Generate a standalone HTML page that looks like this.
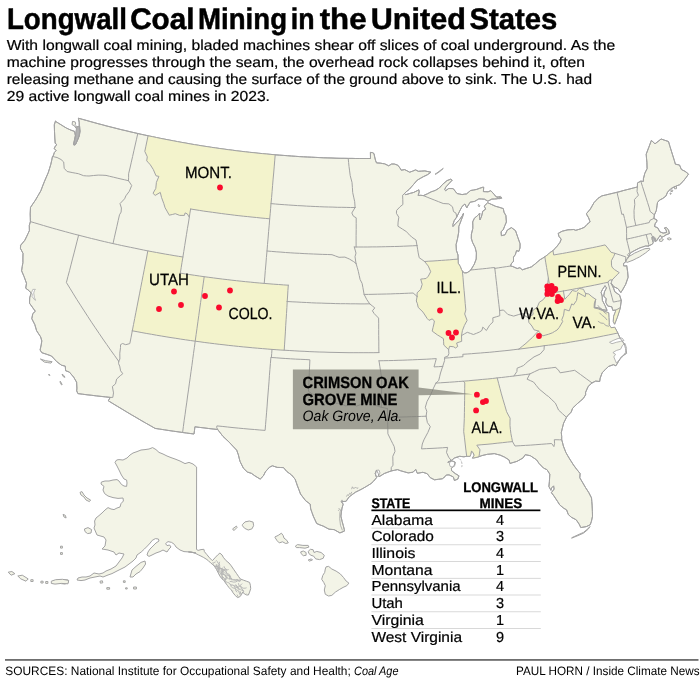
<!DOCTYPE html>
<html><head><meta charset="utf-8"><title>Longwall Coal Mining in the United States</title>
<style>html,body{margin:0;padding:0;background:#fff;overflow:hidden}svg{display:block;font-family:"Liberation Sans",sans-serif}text{text-rendering:geometricPrecision}svg{will-change:transform;opacity:.999}</style></head>
<body><svg width="700" height="681" viewBox="0 0 700 681">
<rect width="700" height="681" fill="#fff"/>
<g fill="#f3f4e7" stroke="#a3a3a3" stroke-width="1.0" stroke-linejoin="round">
<path d="M55.4,121.3 L58.3,123.1 L61.1,124.8 L63.8,126.5 L66.5,128.1 L68.8,129.2 L71.1,130.2 L74.6,131.4 L75.4,135.6 L74.4,140.3 L73.6,144.2 L74.4,145.3 L75.7,144.0 L77.0,141.1 L78.9,136.6 L79.6,131.8 L79.3,126.7 L79.2,122.2 L78.4,118.2 L82.3,119.3 L86.3,120.4 L90.2,121.5 L94.2,122.6 L98.1,123.7 L102.1,124.7 L106.0,125.8 L110.0,126.8 L114.0,127.8 L117.9,128.8 L121.9,129.8 L125.9,130.7 L129.9,131.7 L133.9,132.6 L137.8,133.5 L141.3,134.3 L144.7,135.0 L148.1,135.8 L152.3,136.6 L156.5,137.5 L160.7,138.4 L164.9,139.2 L169.1,140.0 L173.3,140.8 L177.5,141.6 L181.8,142.4 L186.0,143.1 L190.2,143.9 L194.4,144.6 L198.7,145.3 L202.9,146.0 L207.1,146.6 L211.4,147.3 L215.6,147.9 L219.8,148.5 L224.1,149.1 L228.3,149.7 L232.6,150.2 L236.8,150.8 L241.1,151.3 L245.4,151.8 L249.6,152.3 L253.9,152.7 L258.1,153.2 L262.4,153.6 L266.7,154.0 L270.9,154.4 L275.2,154.8 L279.3,155.1 L283.3,155.4 L287.4,155.7 L291.4,156.0 L295.5,156.3 L299.5,156.6 L303.6,156.8 L307.6,157.0 L311.7,157.2 L315.7,157.4 L319.8,157.6 L323.8,157.8 L327.9,157.9 L332.0,158.0 L336.0,158.2 L340.1,158.3 L344.1,158.3 L348.2,158.4 L351.9,158.4 L355.6,158.5 L359.4,158.5 L363.1,158.5 L366.8,158.5 L370.5,158.5 L370.4,152.4 L372.6,152.7 L374.0,153.6 L374.7,157.0 L375.5,160.3 L376.5,162.9 L380.2,163.1 L382.4,163.5 L384.6,163.8 L388.7,165.8 L391.6,164.0 L394.3,164.0 L397.8,165.2 L400.1,168.2 L401.2,170.2 L404.7,169.6 L407.2,170.9 L409.7,172.2 L412.7,171.1 L415.6,169.9 L418.4,171.3 L421.7,171.1 L424.9,170.9 L428.0,171.6 L431.0,172.2 L427.3,174.8 L423.3,176.7 L420.3,178.4 L417.2,180.2 L413.6,184.4 L411.4,186.9 L409.2,189.4 L405.9,192.0 L404.6,193.6 L405.6,194.7 L408.0,194.0 L410.7,193.2 L413.5,192.5 L417.2,190.7 L418.9,189.8 L419.2,192.2 L418.1,195.4 L420.8,195.3 L423.4,195.6 L427.4,193.8 L431.2,191.8 L433.4,191.1 L435.5,190.3 L439.3,188.0 L442.8,184.2 L447.0,180.6 L450.7,179.2 L452.2,180.2 L448.9,183.7 L445.8,187.1 L444.7,189.7 L445.6,190.7 L448.7,188.5 L453.2,188.6 L457.0,193.5 L459.5,194.0 L462.1,194.6 L464.3,194.2 L466.5,193.9 L470.6,190.5 L473.6,190.0 L476.7,189.4 L479.6,188.3 L482.6,187.3 L483.7,187.2 L483.4,191.6 L485.8,191.7 L488.1,191.8 L490.8,190.7 L494.1,194.3 L496.1,196.8 L498.7,197.3 L501.3,197.8 L499.1,198.3 L496.9,198.8 L494.4,199.0 L491.8,199.1 L487.9,201.2 L484.5,199.2 L481.7,199.0 L478.8,198.9 L476.7,200.2 L474.6,201.4 L470.1,202.2 L467.7,206.2 L466.8,207.9 L464.9,204.0 L462.1,206.4 L459.7,211.0 L456.8,216.9 L454.2,220.7 L452.9,224.6 L453.0,226.5 L455.6,223.5 L459.3,220.0 L462.4,215.6 L463.6,213.1 L462.7,216.4 L461.1,220.6 L458.8,226.5 L458.7,232.2 L457.5,238.8 L456.1,244.6 L456.4,250.3 L458.0,255.0 L458.1,259.1 L458.2,263.2 L460.2,266.3 L461.4,269.4 L462.4,271.3 L464.7,272.9 L467.1,272.7 L469.9,270.8 L470.8,270.0 L474.3,264.1 L476.2,259.0 L476.4,252.8 L475.2,247.7 L472.5,242.3 L471.3,238.3 L471.4,234.2 L472.8,228.4 L472.8,225.2 L472.7,221.9 L474.4,218.2 L477.5,215.7 L479.8,213.0 L479.5,217.1 L480.0,220.0 L481.6,216.1 L482.8,211.1 L485.7,209.1 L484.2,206.1 L487.7,202.7 L491.4,204.4 L495.6,206.3 L498.9,207.2 L503.3,208.6 L504.0,212.2 L505.9,215.6 L506.4,222.0 L504.9,225.5 L503.2,229.8 L501.1,231.7 L501.4,235.7 L505.0,234.8 L507.3,230.1 L511.4,227.6 L515.5,230.6 L516.7,234.1 L517.9,237.6 L520.1,243.8 L520.0,248.0 L518.8,251.4 L516.6,250.6 L515.3,254.7 L513.5,257.1 L513.5,261.2 L511.2,263.9 L510.6,266.0 L512.7,266.5 L517.2,268.5 L519.9,267.7 L522.3,269.8 L526.9,268.3 L529.2,267.6 L531.5,266.8 L535.3,263.8 L537.7,261.7 L540.1,259.7 L542.5,258.3 L544.8,256.8 L548.3,254.3 L549.5,252.9 L553.0,250.7 L555.0,248.4 L557.1,246.2 L560.0,242.3 L561.2,239.2 L558.9,236.3 L558.2,233.4 L562.2,231.2 L565.0,230.5 L567.9,229.8 L570.8,229.7 L573.7,229.5 L575.7,230.3 L578.2,229.6 L580.8,228.8 L584.6,227.2 L587.0,224.4 L590.1,221.9 L588.6,217.8 L586.8,214.8 L586.5,213.6 L590.3,209.1 L592.2,205.8 L594.1,202.5 L596.0,200.5 L597.9,198.4 L601.8,195.9 L605.6,195.0 L609.4,194.1 L613.2,193.2 L617.0,192.3 L620.1,191.5 L623.2,190.6 L626.3,189.8 L630.0,188.9 L633.7,187.9 L637.4,187.0 L637.5,182.9 L640.8,181.2 L643.5,181.3 L643.4,178.8 L644.8,173.3 L647.1,168.6 L646.9,162.2 L646.5,158.2 L646.2,154.2 L648.8,147.3 L651.4,140.4 L655.0,143.8 L658.1,141.4 L661.1,139.0 L664.8,140.3 L668.5,141.5 L669.9,146.3 L671.4,151.1 L672.9,155.9 L674.4,160.7 L675.4,164.2 L679.5,165.0 L681.4,169.5 L685.0,171.3 L687.8,173.4 L688.5,174.1 L686.1,177.5 L682.9,181.6 L679.7,184.7 L677.3,185.6 L674.0,187.1 L670.8,188.7 L667.6,192.1 L665.9,196.1 L662.7,198.5 L659.5,200.1 L657.5,202.5 L657.0,205.8 L656.3,210.6 L654.4,214.9 L653.9,218.4 L657.0,220.1 L656.7,221.5 L655.1,223.8 L654.5,226.5 L657.7,227.8 L659.9,231.8 L663.1,233.1 L666.6,232.5 L666.1,229.7 L664.2,228.2 L666.2,227.5 L668.5,229.8 L669.4,233.5 L666.1,234.8 L663.5,236.5 L661.5,237.4 L660.4,235.2 L658.6,237.7 L656.7,240.7 L655.4,241.6 L654.5,238.8 L652.0,236.9 L652.2,239.4 L653.2,242.5 L652.4,244.1 L648.4,246.1 L645.6,246.0 L642.6,247.0 L639.6,248.0 L637.0,249.3 L634.3,250.7 L630.4,252.9 L628.7,256.4 L627.7,258.5 L626.3,260.1 L625.5,262.0 L623.6,263.4 L623.5,265.8 L626.1,266.0 L626.7,265.5 L627.6,271.5 L628.1,277.3 L625.7,284.3 L622.4,290.2 L620.8,292.6 L618.0,288.7 L613.8,286.7 L611.1,283.2 L613.5,288.1 L614.9,291.9 L619.6,295.1 L621.3,300.5 L620.8,304.1 L620.3,307.7 L619.4,311.0 L617.3,317.3 L614.6,324.2 L613.3,321.4 L613.6,316.4 L615.4,311.8 L615.7,310.1 L612.8,310.4 L611.8,306.8 L607.7,306.0 L605.7,302.2 L606.2,298.8 L603.7,296.0 L604.5,291.7 L606.5,287.9 L605.0,285.7 L602.4,289.6 L601.1,292.4 L602.2,296.0 L602.4,300.4 L605.1,305.7 L607.1,310.4 L602.1,309.6 L598.5,307.9 L594.6,307.3 L595.0,302.8 L595.7,299.3 L594.3,303.7 L594.1,307.9 L598.1,308.8 L600.9,309.9 L603.7,311.0 L608.7,312.8 L608.9,317.4 L609.2,322.3 L609.1,324.8 L610.5,326.7 L611.0,327.7 L614.8,327.3 L617.8,333.0 L620.2,338.3 L622.3,341.2 L624.4,344.0 L625.5,348.6 L626.6,353.2 L623.9,355.1 L621.2,356.9 L618.5,361.4 L615.9,365.8 L613.4,364.7 L608.4,366.5 L605.3,369.6 L602.2,372.7 L600.2,378.1 L599.7,381.5 L595.7,381.1 L592.0,382.9 L588.2,386.4 L585.6,392.3 L585.6,394.8 L583.3,398.5 L580.3,401.1 L577.3,403.7 L572.6,408.2 L571.2,412.1 L568.0,415.4 L566.5,417.3 L563.6,423.2 L562.3,428.3 L561.3,432.5 L561.7,436.6 L561.7,439.7 L562.6,442.9 L563.4,446.1 L564.6,449.2 L565.8,452.3 L567.7,455.7 L569.7,459.0 L573.5,465.0 L576.7,469.3 L580.1,473.5 L579.8,477.8 L582.9,483.0 L585.5,487.5 L588.8,492.6 L591.5,497.9 L591.8,501.5 L592.1,505.1 L592.4,511.5 L592.5,516.3 L591.4,521.4 L590.2,524.8 L586.3,526.6 L580.8,527.6 L579.2,524.2 L576.2,519.8 L571.4,517.3 L568.3,514.5 L566.6,509.9 L563.7,508.2 L559.7,504.9 L557.6,501.5 L553.9,495.9 L551.4,492.7 L554.1,489.1 L553.6,485.9 L551.7,487.8 L550.9,490.3 L548.9,486.5 L549.4,481.6 L549.6,477.9 L549.8,474.2 L547.0,469.7 L543.5,468.1 L539.1,463.5 L536.5,459.8 L530.3,455.7 L525.2,454.7 L523.1,457.9 L520.0,459.7 L516.9,461.4 L512.1,462.8 L510.0,463.5 L509.0,459.9 L504.5,457.1 L500.1,455.1 L497.2,454.4 L494.3,453.6 L490.9,454.0 L487.4,454.3 L481.9,455.6 L479.0,456.7 L475.1,457.7 L472.4,458.1 L474.2,455.2 L473.1,452.8 L471.5,450.9 L470.7,454.6 L470.1,456.3 L466.7,456.3 L463.9,456.8 L459.7,456.3 L454.5,458.0 L451.2,460.5 L447.8,462.3 L451.7,460.9 L455.2,462.3 L454.1,465.6 L451.4,468.2 L451.6,470.7 L455.3,473.6 L459.0,475.8 L457.8,479.1 L454.4,480.5 L453.4,477.0 L449.1,474.9 L446.3,475.0 L445.0,476.7 L442.3,478.8 L438.4,479.3 L434.5,479.8 L430.2,477.6 L427.2,473.7 L422.9,472.3 L420.1,472.8 L417.3,473.3 L415.7,469.4 L413.1,472.2 L408.2,472.9 L404.3,471.8 L400.4,470.7 L397.5,469.6 L394.4,470.3 L391.3,470.9 L387.8,472.2 L384.3,473.5 L379.0,476.8 L378.3,473.6 L376.6,470.4 L375.2,473.6 L376.6,477.6 L373.6,481.2 L371.0,483.6 L366.1,486.6 L361.9,489.0 L358.7,490.6 L355.5,492.2 L352.2,494.6 L349.0,497.0 L346.1,501.3 L341.4,501.7 L343.2,504.1 L342.0,508.1 L341.4,512.1 L340.9,516.1 L342.2,521.7 L343.3,525.6 L344.3,529.5 L344.3,531.2 L339.9,532.9 L334.1,529.6 L329.0,529.2 L323.2,526.1 L319.9,524.9 L316.7,523.5 L315.0,519.9 L313.3,516.2 L312.0,512.6 L310.7,508.9 L310.2,504.1 L305.6,500.7 L300.5,494.0 L299.0,489.9 L297.4,485.8 L296.3,482.5 L295.1,479.2 L291.6,475.0 L286.8,471.5 L283.5,467.6 L280.4,467.5 L277.2,467.4 L272.4,465.8 L269.5,467.2 L265.4,471.8 L263.3,476.0 L260.2,479.1 L254.8,475.8 L251.5,473.4 L247.3,472.0 L243.4,468.2 L240.1,461.6 L239.2,458.3 L238.4,454.9 L236.7,450.2 L232.9,446.2 L229.2,442.2 L226.0,439.2 L222.9,436.3 L220.5,433.2 L218.1,430.1 L217.7,429.5 L213.1,429.0 L208.6,428.5 L204.0,427.9 L199.5,427.4 L194.9,426.8 L194.5,430.4 L194.0,434.0 L190.2,433.5 L186.4,433.0 L182.6,432.5 L178.0,431.8 L173.4,431.2 L168.8,430.5 L164.3,429.8 L159.7,429.1 L155.1,428.4 L150.4,425.7 L145.6,423.0 L140.9,420.3 L136.2,417.5 L131.5,414.8 L126.8,412.0 L122.2,409.2 L117.5,406.4 L112.9,403.6 L108.3,400.8 L110.2,397.4 L105.6,396.9 L101.0,396.4 L96.4,395.9 L91.8,395.3 L87.1,394.8 L82.5,394.2 L77.9,393.6 L76.7,390.9 L76.9,388.1 L76.6,382.2 L73.7,377.2 L69.4,372.1 L65.6,370.7 L65.3,366.2 L61.5,365.2 L59.0,363.4 L56.6,361.5 L54.1,358.8 L51.5,356.0 L46.7,354.3 L41.8,352.7 L40.1,350.0 L41.2,344.9 L41.8,340.9 L40.6,336.8 L38.6,333.8 L36.6,330.7 L34.8,324.6 L31.8,318.7 L32.8,313.6 L35.3,311.3 L33.0,308.1 L29.5,303.2 L29.7,297.8 L31.1,293.1 L29.3,290.9 L25.7,288.2 L26.5,283.3 L24.1,276.7 L21.6,270.8 L22.2,266.7 L22.9,262.7 L22.9,258.0 L23.0,253.4 L20.4,248.3 L20.7,245.2 L24.8,240.3 L26.6,236.6 L28.0,233.6 L29.4,230.6 L29.3,225.5 L30.4,221.6 L30.3,217.8 L30.2,213.9 L30.5,207.4 L32.9,203.8 L35.4,200.2 L38.1,195.5 L40.8,190.9 L42.6,186.1 L44.5,181.3 L46.3,177.1 L48.2,172.8 L49.5,168.6 L50.8,164.3 L51.7,160.4 L52.5,156.4 L53.3,155.8 L54.3,152.6 L56.1,150.6 L54.3,148.6 L55.2,146.2 L56.9,144.7 L55.2,143.3 L54.8,138.0 L54.5,131.4 L54.3,124.8 L55.4,121.3Z"/>
<path d="M625.7,261.4 L626.8,258.7 L629.2,256.4 L631.9,254.8 L634.6,253.1 L637.2,252.0 L639.8,250.8 L642.4,249.7 L645.0,248.7 L649.5,248.3 L649.9,249.4 L647.8,251.1 L645.6,252.9 L642.6,254.9 L639.6,256.9 L636.3,258.5 L633.0,260.2 L630.1,261.3 L627.1,262.4Z"/>
<path d="M659.2,239.7 L661.5,238.6 L663.4,239.4 L662.1,241.3 L659.7,241.3Z"/>
<path d="M667.4,238.3 L669.7,237.8 L671.4,239.0 L669.4,239.9 L667.7,239.4Z"/>
<path d="M435.0,174.3 L438.1,172.1 L441.2,169.8 L443.3,168.4 L440.2,171.2 L436.6,173.7Z"/>
<path d="M40.4,359.0 L43.0,359.9 L45.5,360.7 L48.8,361.2 L52.1,361.7 L51.0,363.1 L47.7,362.6 L44.4,362.1Z"/>
<path d="M62.0,374.1 L64.3,375.9 L64.9,377.4 L63.1,376.5Z"/>
<path d="M60.3,381.2 L62.2,384.6 L61.5,384.9 L59.9,381.9Z"/>
<path d="M48.9,374.1 L50.0,375.4 L48.7,375.1Z"/>
<path d="M497.3,197.2 L500.5,196.3 L501.9,198.2 L498.6,198.9Z"/>
<path d="M478.5,204.3 L479.8,205.7 L479.1,206.9 L478.2,205.4Z"/>
<path d="M72.5,121.4 L75.2,121.9 L75.7,124.0 L74.1,125.6 L72.1,124.7Z"/>
<path d="M74.5,126.2 L76.3,125.9 L76.1,128.3Z"/>
<path d="M674.1,186.6 L676.5,186.5 L676.5,188.7 L674.5,188.8Z"/>
<path d="M671.2,189.8 L672.8,190.3 L672.3,191.7 L670.7,191.3Z"/>
<path d="M670.0,192.9 L671.4,193.6 L670.4,194.4Z"/>
<path d="M590.0,526.5 L588.2,529.2 L583.6,533.1 L578.0,535.6 L574.8,536.9 L571.6,538.2 L571.8,537.7 L574.8,536.3 L577.8,534.9 L583.5,532.4 L588.4,528.3Z"/>
<path d="M77.0,126.7 L79.7,126.2 L80.3,131.5 L79.0,136.8 L77.0,141.4 L75.4,144.6 L73.7,144.6 L74.6,140.7 L75.7,136.0 L75.9,131.4Z" fill="#b3b3b3"/>
<path d="M652.1,236.9 L653.8,236.4 L655.6,238.3 L655.3,241.1 L653.4,241.3 L652.5,238.8Z" fill="#bdbdbd" stroke-width="0.6"/>
<path d="M31.4,292.9 L32.8,289.4 L35.4,289.3 L34.4,290.7 L33.7,293.0 L34.4,297.5 L35.6,300.3 L34.5,299.7 L32.1,296.5 L32.3,294.3Z" fill="#fff" stroke-width="0.7"/>
<path d="M609.5,342.3 L613.8,340.2 L618.0,338.5 L622.0,338.0 L624.0,340.6 L620.6,341.4 L616.3,342.3 L612.0,343.7Z" fill="#fff" stroke-width="0.8"/>
<path d="M624.9,343.2 L626.6,348.3 L625.4,352.6 L622.3,356.9 L618.0,361.2 L616.3,362.9 L613.8,356.9 L615.5,354.3 L612.9,352.6 L616.3,350.5 L620.6,349.2 L622.3,345.7Z" fill="#fff" stroke-width="0.8"/>
<path d="M376.0,470.4 L379.0,470.0 L380.0,473.0 L378.0,476.6 L375.6,475.6Z" fill="#fff" stroke-width="0.8"/>
<ellipse cx="452.3" cy="464" rx="2.9" ry="3.1" fill="#fff" stroke-width="0.8"/>
<path d="M456.4,457.2 Q461,458.5 461.8,463 T460.6,467.5" fill="none" stroke-width="0.8" stroke-dasharray="2.2 1.2"/>
<path d="M340.6,509.5 L339.9,513 L339.7,518.8 L340.5,525.4 L342.4,530.3 M341,501.5 q0.3,-1.8 1.6,-1.2 q0.9,1.2 -0.6,2 M346.4,496.6 l1.2,-1.9 l0.8,0.8 l1.3,-2.2 l0.9,0.9 l1.2,-2.3 M351.6,489.2 l0.8,-2.4 l1.5,1.9 l1.6,-1.7 l1.3,1.3 l1.5,-0.4 M338.2,510.8 l1.4,-1.6 l-0.9,-1.1" fill="none" stroke-width="0.8"/>
<path d="M196.6,467.0 L193.0,464.0 L189.0,462.4 L185.0,463.6 L180.0,461.0 L175.0,459.0 L171.0,457.6 L167.0,456.0 L163.0,454.0 L159.0,452.4 L156.0,449.6 L152.6,447.6 L149.0,449.0 L145.0,449.6 L141.0,450.0 L137.0,451.6 L133.0,453.0 L130.0,455.0 L127.0,458.0 L123.0,460.0 L119.0,459.6 L116.6,460.0 L115.0,462.4 L117.0,466.0 L119.0,470.0 L121.4,475.0 L124.0,479.0 L126.6,480.0 L127.0,483.0 L126.6,486.4 L124.0,486.0 L121.4,484.4 L119.0,481.0 L117.0,479.6 L113.0,480.0 L109.0,481.0 L105.0,481.0 L101.4,482.0 L101.0,484.0 L104.0,486.4 L103.0,490.0 L104.6,493.6 L108.0,496.0 L113.0,497.6 L118.0,498.4 L123.0,498.0 L123.4,501.0 L121.0,503.6 L120.0,507.0 L117.0,508.0 L114.0,509.6 L111.0,509.0 L108.0,507.6 L105.0,510.0 L102.0,513.0 L99.0,515.6 L96.0,518.0 L94.6,521.0 L95.0,525.0 L94.0,528.0 L97.0,535.0 L104.0,537.0 L106.0,540.0 L105.0,546.0 L102.0,549.0 L108.0,550.0 L114.0,552.0 L116.0,555.0 L119.0,553.0 L124.0,554.0 L122.0,558.0 L119.0,562.0 L116.0,566.0 L111.0,569.0 L106.0,571.0 L103.0,573.0 L99.0,574.0 L94.0,573.0 L90.0,576.0 L86.0,577.0 L82.0,577.0 L78.0,578.0 L77.0,580.0 L81.0,580.6 L85.0,580.0 L90.0,578.0 L95.0,577.0 L100.0,576.0 L103.0,577.0 L108.0,575.0 L112.0,573.6 L117.0,571.0 L121.0,569.0 L125.0,567.0 L129.0,564.0 L133.0,561.0 L136.0,558.0 L137.0,555.0 L141.2,552.0 L144.4,549.0 L147.4,546.0 L150.2,543.0 L152.2,540.4 L155.4,538.6 L158.4,539.0 L159.0,541.0 L156.0,543.0 L153.0,546.0 L150.0,549.0 L148.0,552.0 L147.0,555.0 L149.0,556.4 L152.0,555.0 L156.0,553.0 L160.0,551.6 L163.0,550.0 L165.0,551.0 L167.0,552.0 L169.0,549.0 L171.0,547.0 L169.6,545.0 L167.0,545.6 L165.6,543.6 L168.0,541.6 L171.6,542.4 L174.4,544.4 L176.0,547.0 L180.0,550.0 L184.0,551.6 L190.0,552.0 L196.0,553.0 L188.4,551.9 L191.9,552.1 L195.3,553.3 L198.7,555.0 L201.0,556.1 L203.3,557.3 L206.1,559.0 L208.4,560.7 L210.7,563.0 L213.0,564.7 L214.9,567.0 L216.4,569.3 L218.1,572.7 L219.9,576.1 L221.6,578.4 L223.9,580.7 L225.6,583.0 L227.3,585.3 L229.0,587.6 L231.3,589.9 L233.0,592.7 L235.3,595.6 L237.6,597.6 L239.9,596.7 L241.6,594.4 L242.7,592.1 L244.4,593.9 L246.7,595.0 L248.4,595.0 L249.6,592.1 L250.7,588.7 L250.4,585.3 L249.6,582.4 L246.7,581.3 L243.3,580.1 L240.4,579.0 L238.7,576.7 L236.4,573.3 L233.6,569.3 L231.3,565.9 L229.0,563.0 L226.1,560.7 L223.3,557.3 L222.1,555.0 L219.9,553.1 L217.6,555.0 L214.9,557.9 L212.4,560.7 L209.6,557.9 L206.7,554.4 L204.4,551.6 L203.9,549.3 L201.0,549.6 L198.1,550.4 L196.4,549.3 L196.5,549.3Z"/>
<path d="M80.0,492.4 L82.0,491.6 L84.0,495.0 L87.0,498.0 L90.6,500.0 L89.4,501.6 L86.0,500.0 L84.0,497.0 L81.0,495.0Z"/>
<path d="M84.4,529.0 L88.0,527.6 L91.6,529.6 L91.0,533.0 L87.6,533.6 L85.0,531.6Z"/>
<path d="M130.0,577.0 L132.0,570.0 L136.0,566.4 L141.0,562.4 L145.0,561.0 L145.6,564.0 L143.0,568.0 L140.0,571.6 L136.0,574.0 L133.0,577.0Z"/>
<path d="M100.0,581.2 L102.4,580.8 L102.8,582.8 L100.4,583.2Z"/>
<path d="M106.8,587.6 L109.6,587.6 L109.6,589.2 L106.8,589.2Z"/>
<path d="M123.4,580.8 L125.2,580.8 L125.2,582.4 L123.4,582.4Z"/>
<path d="M125.6,587.8 L127.2,587.8 L127.2,589.0 L125.6,589.0Z"/>
<path d="M133.6,587.0 L136.4,587.0 L136.4,589.0 L133.6,589.0Z"/>
<path d="M61.0,581.0 L64.0,579.6 L68.0,580.0 L68.4,582.4 L65.0,584.0 L61.0,583.6Z"/>
<path d="M8.2,572.2 L11.9,571.5 L14.9,573.7 L11.1,575.2Z"/>
<path d="M17.8,576.0 L22.3,575.2 L28.2,578.9 L26.0,581.2 L20.8,578.9Z"/>
<path d="M30.8,579.7 L33.1,579.7 L33.1,581.5 L30.8,581.5Z"/>
<path d="M40.9,581.2 L43.1,581.2 L43.1,583.0 L40.9,583.0Z"/>
<path d="M45.7,581.5 L47.9,581.5 L47.9,583.4 L45.7,583.4Z"/>
<path d="M51.3,581.2 L55.7,579.7 L62.4,579.3 L68.7,580.4 L68.0,583.8 L61.3,583.4 L55.0,584.1 L51.3,583.4Z"/>
<path d="M60.5,546.2 L62.4,546.2 L62.4,548.1 L60.5,548.1Z"/>
<path d="M60.5,552.6 L62.4,552.6 L62.4,554.4 L60.5,554.4Z"/>
<path d="M63.1,514.3 L65.4,515.4 L66.1,518.0 L63.9,516.9Z"/>
<clipPath id="pan"><path d="M212.4,560.7 L214.9,557.9 L217.6,555.0 L219.9,553.1 L222.1,555.0 L223.3,557.3 L226.1,560.7 L229.0,563.0 L231.3,565.9 L233.6,569.3 L236.4,573.3 L238.7,576.7 L240.4,579.0 L243.3,580.1 L246.7,581.3 L249.6,582.4 L250.4,585.3 L250.7,588.7 L249.6,592.1 L248.4,595.0 L246.7,595.0 L244.4,593.9 L242.7,592.1 L241.6,594.4 L239.9,596.7 L237.6,597.6 L235.3,595.6 L233.0,592.7 L231.3,589.9 L229.0,587.6 L227.3,585.3 L225.6,583.0 L223.9,580.7 L221.6,578.4 L219.9,576.1 L218.1,572.7 L216.4,569.3 L214.9,567.0 L213.0,564.7Z"/></clipPath>
<path d="M218.5,574.1 L219.8,574.4 L221.2,573.6 L221.5,571.3 M212.4,566.2 L213.8,567.1 L215.5,566.8 L217.5,566.7 L219.0,565.6 L219.1,563.6 L219.7,561.8 M237.1,594.6 L237.8,596.1 L238.2,598.4 L237.9,601.0 L238.7,603.0 M216.1,560.2 L217.3,561.5 L217.7,562.8 L219.2,563.7 L219.7,565.6 L219.7,567.8 M239.6,599.0 L240.8,600.0 L241.6,602.2 L242.2,603.8 M216.8,569.7 L216.4,571.4 L216.8,572.8 L216.8,575.1 L217.7,576.3 L218.7,577.7 L220.9,578.7 M235.7,584.4 L236.6,586.0 L237.5,587.9 L238.5,589.3 L240.5,589.3 L241.9,590.3 L243.6,590.9 M244.5,596.0 L244.9,597.8 L246.0,598.8 L248.4,599.0 L250.3,597.8 L250.8,596.6 L251.6,594.3 M232.3,584.9 L234.2,585.7 L236.5,585.9 L238.3,587.4 L239.0,589.2 M218.4,567.8 L220.4,568.0 L222.2,568.9 L222.3,570.3 L222.6,572.1 L221.2,573.0 M240.4,596.3 L239.6,598.4 L239.2,600.6 L239.2,603.2 M223.5,580.4 L223.0,582.3 L222.4,584.2 L221.5,586.5 L221.7,587.7 M240.4,585.6 L241.8,587.6 L243.2,588.2 L245.2,588.2 L246.6,587.8 M222.6,574.4 L222.0,575.8 L222.7,578.0 L222.4,580.3 L223.1,582.1 L224.3,582.9 L226.0,583.9 M236.6,589.9 L238.4,590.7 L239.2,592.6 L240.0,594.6 M226.7,576.9 L225.6,578.2 L225.0,579.9 L224.9,581.7 L225.6,582.9 L225.5,585.0 M221.0,569.6 L222.5,571.1 L223.0,572.8 L223.5,574.2 M224.1,566.3 L224.6,568.2 L226.2,569.2 L226.1,571.6 L227.1,573.6 L229.2,574.3 L230.5,576.4 M225.2,575.6 L226.4,575.8 L227.7,575.7 L230.0,576.0 L230.9,577.8 L232.1,579.1 M240.2,590.8 L240.0,592.3 L241.2,594.2 L241.8,595.8 L242.0,598.1 M240.2,592.0 L241.2,593.4 L242.0,595.3 L242.8,597.8 L243.8,598.9 M221.6,570.3 L222.1,571.5 L222.1,573.3 L223.6,574.5 L225.5,575.9 L226.0,577.2 M215.2,568.6 L217.7,568.9 L218.9,568.8 L220.8,568.7 L222.0,568.6 L223.2,567.6 M209.8,557.6 L210.6,559.9 L211.5,562.1 L213.5,562.9 L215.7,561.8 M234.7,587.6 L235.6,589.7 L236.0,591.2 L237.2,592.1 M217.9,564.7 L218.6,566.6 L219.0,568.5 L218.8,570.7 L219.3,572.2 M232.8,590.6 L232.4,592.9 L232.4,595.0 L233.5,596.4 L234.1,598.4 L235.6,599.5 L235.8,601.0 M229.7,576.0 L229.5,577.7 L230.6,579.0 L232.5,579.4 M243.7,602.8 L243.9,604.7 L243.0,606.5 L241.5,608.2 M222.8,568.6 L223.7,570.3 L223.7,572.0 L224.7,573.3 M221.5,578.1 L222.0,579.8 L223.2,581.5 L224.5,582.7 M208.7,565.9 L210.2,566.2 L211.8,565.2 L214.0,565.8 L215.3,567.6 M231.0,590.1 L231.8,591.2 L231.4,593.0 L231.5,595.3 L230.3,596.7 M221.8,570.2 L223.6,569.6 L225.4,569.3 L227.2,569.9 L228.6,569.5 M220.5,575.8 L221.5,577.3 L222.4,578.8 L223.9,579.4 M215.3,566.3 L217.5,567.1 L218.9,568.2 L219.5,569.5 L220.4,571.7 M243.8,591.7 L243.0,592.8 L243.2,595.0 L241.7,596.6 L240.0,597.3 L239.2,598.7 L237.3,599.4 M212.9,566.5 L214.4,567.3 L215.9,566.7 L216.7,564.4 M218.6,574.7 L219.6,575.8 L220.4,576.9 L220.3,578.3 L221.0,579.8 M229.7,581.4 L232.0,581.7 L233.5,582.1 L235.8,581.9 L237.6,580.9 L239.4,581.1 L241.1,580.3 M239.7,594.8 L241.7,595.3 L243.8,595.8 L245.1,595.3 L246.3,593.7 M225.0,580.5 L225.7,581.6 L227.4,582.4 L229.4,583.1 L230.4,584.9 L232.6,585.2 M228.9,578.5 L230.6,579.0 L231.6,579.8 L234.0,579.7 L236.3,580.3 L238.9,580.2 L240.8,579.5 M215.4,573.5 L216.8,574.3 L217.7,575.9 L219.0,577.2 M239.4,598.9 L239.9,600.5 L241.1,601.6 L243.1,602.3 L244.3,601.7 M226.9,577.0 L226.9,578.8 L225.0,579.7 L224.6,582.1 L225.1,584.3 L224.7,585.9 M218.2,567.7 L219.7,567.9 L221.1,569.1 L223.1,570.2 L225.4,570.6 L226.1,572.2 L226.0,574.7 M210.3,557.0 L210.8,559.3 L211.3,561.4 L210.7,563.3 L209.8,564.6 M212.8,562.4 L213.0,564.2 L213.6,565.5 L215.3,566.2 L217.6,566.8 M216.6,567.7 L217.9,568.6 L218.2,570.6 L219.0,572.7 L218.2,574.1 L217.1,574.8 M240.9,598.1 L242.0,598.9 L243.5,600.6 L245.6,600.6 L247.0,600.7 L249.5,600.8 M230.7,584.2 L231.2,586.5 L232.7,588.0 L234.9,588.1 L236.4,589.8 M233.3,580.0 L235.8,579.9 L237.1,579.3 L238.5,580.0 L239.8,581.7 M220.9,571.8 L221.1,573.3 L221.6,575.1 L222.6,576.8 L224.1,577.9 L225.0,580.1 M220.3,573.5 L221.9,574.3 L224.4,574.4 L225.6,575.4 L226.4,577.5 L227.7,578.1 L228.7,578.9 M239.0,597.4 L240.6,598.2 L243.0,597.8 L244.3,598.3 L245.0,599.7 M226.4,573.7 L227.5,574.8 L229.5,575.6 L230.2,577.7 L229.6,579.5 M238.4,583.2 L238.8,584.9 L239.5,586.3 L241.0,586.9 L241.6,588.7 L243.4,590.4 L243.4,592.6 M233.6,585.9 L235.0,587.0 L236.8,587.6 L238.4,587.1 L239.6,585.9 L240.9,584.9 L242.1,583.6 M215.8,564.4 L216.9,565.3 L217.8,566.8 L218.3,569.2 L218.0,571.6 L219.2,573.0" fill="none" stroke="#b4b4b4" stroke-width="0.9" clip-path="url(#pan)"/>
<path d="M232.6,528.9 L236.4,526.1 L237.1,527.4 L233.9,530.6Z"/>
<path d="M242.4,524.6 L245.0,521.9 L249.3,521.0 L253.1,522.1 L253.6,525.7 L251.9,528.9 L248.2,530.0 L244.6,528.3 L242.4,525.7Z"/>
<path d="M275.0,536.9 L278.2,535.4 L281.4,533.2 L283.1,535.4 L284.0,538.1 L286.8,540.3 L288.3,542.9 L285.7,543.5 L282.5,541.8 L279.3,542.9 L277.1,540.7 L275.0,537.5Z"/>
<path d="M295.4,546.1 L297.5,544.6 L302.9,545.4 L308.2,545.4 L308.9,547.1 L305.0,548.2 L299.6,547.6 L296.4,547.6Z"/>
<path d="M300.7,551.9 L303.3,551.0 L306.1,552.5 L306.1,555.3 L303.3,555.7 L301.1,553.6Z"/>
<path d="M308.2,551.4 L310.4,549.3 L313.1,549.7 L314.0,552.5 L316.8,551.4 L321.1,552.5 L324.3,555.3 L323.2,558.3 L319.6,559.6 L315.7,558.9 L313.6,556.1 L311.0,555.3 L308.9,553.6Z"/>
<path d="M308.2,560.0 L311.4,558.9 L312.5,560.0 L309.3,561.1Z"/>
<path d="M326.0,566.9 L328.6,566.4 L331.8,569.0 L336.1,571.1 L340.3,573.9 L343.6,577.6 L346.1,581.0 L348.9,583.1 L346.8,585.7 L343.1,587.4 L339.3,589.6 L335.4,592.1 L331.8,595.4 L328.6,596.0 L325.3,594.3 L324.3,590.0 L325.3,585.7 L323.8,582.5 L321.7,579.3 L322.8,575.4 L324.7,572.4 L325.3,569.0Z"/>
</g>
<g fill="#f3f3cc" stroke="none">
<path d="M148.1,135.8 L152.3,136.6 L156.5,137.5 L160.7,138.4 L164.9,139.2 L169.1,140.0 L173.3,140.8 L177.5,141.6 L181.8,142.4 L186.0,143.1 L190.2,143.9 L194.4,144.6 L198.7,145.3 L202.9,146.0 L207.1,146.6 L211.4,147.3 L215.6,147.9 L219.8,148.5 L224.1,149.1 L228.3,149.7 L232.6,150.2 L236.8,150.8 L241.1,151.3 L245.4,151.8 L249.6,152.3 L253.9,152.7 L258.1,153.2 L262.4,153.6 L266.7,154.0 L270.9,154.4 L275.2,154.8 L274.7,160.9 L274.2,166.9 L273.7,173.0 L273.1,179.1 L272.6,185.3 L272.1,191.4 L271.6,197.5 L271.0,203.6 L270.6,208.7 L270.2,213.7 L269.7,218.8 L265.3,218.4 L260.9,218.0 L256.5,217.5 L252.1,217.1 L247.7,216.6 L243.3,216.2 L238.9,215.7 L234.5,215.2 L230.1,214.6 L225.7,214.1 L221.3,213.5 L216.9,212.9 L212.5,212.3 L208.1,211.7 L203.7,211.1 L199.4,210.4 L195.0,209.7 L190.6,209.0 L189.9,213.2 L189.3,217.3 L187.3,213.9 L185.1,212.9 L184.4,215.4 L182.0,215.4 L179.7,215.4 L175.3,213.7 L172.3,214.5 L169.2,215.2 L168.8,214.3 L167.0,211.1 L165.1,207.8 L163.8,203.6 L161.5,197.4 L160.3,192.4 L155.2,195.4 L153.0,193.3 L155.8,188.4 L156.4,182.4 L158.9,176.4 L156.0,175.8 L153.3,169.5 L150.3,164.8 L148.5,162.8 L146.7,160.8 L147.3,156.8 L144.8,151.4 L145.9,146.2 L147.0,140.9 L148.1,135.8Z"/>
<path d="M147.8,250.9 L152.2,251.7 L156.6,252.5 L161.0,253.3 L165.3,254.1 L169.7,254.8 L174.1,255.6 L178.5,256.3 L182.9,257.0 L182.0,262.4 L181.2,267.7 L180.3,273.1 L185.1,273.9 L189.9,274.6 L194.6,275.3 L199.4,276.0 L204.2,276.7 L203.3,283.1 L202.4,289.6 L201.5,296.0 L200.6,302.5 L199.7,308.9 L198.8,315.4 L197.9,321.8 L197.0,328.3 L196.1,334.7 L195.2,341.2 L190.4,340.5 L185.5,339.8 L180.7,339.1 L175.8,338.3 L171.0,337.6 L166.1,336.8 L161.3,336.0 L156.4,335.2 L151.6,334.3 L146.8,333.5 L141.9,332.6 L137.1,331.7 L132.3,330.8Z"/>
<path d="M204.2,276.7 L208.9,277.3 L213.5,277.9 L218.2,278.5 L222.8,279.1 L227.5,279.7 L232.2,280.2 L236.8,280.7 L241.5,281.2 L246.2,281.7 L250.8,282.2 L255.5,282.6 L260.2,283.1 L264.9,283.5 L269.6,283.8 L274.2,284.2 L278.9,284.6 L283.6,284.9 L288.3,285.2 L287.9,290.6 L287.6,296.0 L287.2,301.5 L286.9,307.5 L286.5,313.6 L286.1,319.7 L285.7,325.8 L285.4,331.9 L285.0,338.0 L284.6,344.1 L284.2,350.2 L279.3,349.9 L274.3,349.5 L269.3,349.2 L264.4,348.8 L259.4,348.4 L254.5,347.9 L249.5,347.5 L244.6,347.0 L239.6,346.5 L234.7,346.0 L229.8,345.5 L224.8,344.9 L219.9,344.4 L215.0,343.8 L210.0,343.2 L205.1,342.5 L200.2,341.9 L195.2,341.2Z"/>
<path d="M424.6,261.5 L428.8,261.2 L433.0,261.0 L437.2,260.7 L441.4,260.4 L445.6,260.1 L449.7,259.8 L453.9,259.4 L458.1,259.1 L458.2,263.2 L460.2,266.3 L461.4,269.4 L462.4,271.3 L463.0,277.7 L463.5,284.1 L464.1,290.6 L464.7,297.0 L465.2,303.4 L465.8,309.9 L464.7,314.0 L467.1,320.4 L464.4,325.5 L462.4,330.6 L461.5,335.6 L461.7,341.3 L459.2,342.1 L456.6,343.0 L457.7,346.5 L455.5,348.0 L453.7,346.8 L449.6,346.3 L448.6,349.6 L443.8,345.1 L443.6,341.8 L443.4,338.6 L440.4,336.7 L437.4,334.9 L432.2,331.1 L433.0,327.6 L433.9,324.0 L434.4,320.9 L432.1,318.9 L429.0,320.4 L427.1,318.4 L423.0,312.1 L418.2,307.4 L417.4,303.7 L416.3,301.0 L417.1,296.4 L417.1,292.8 L420.6,289.4 L422.2,284.4 L420.7,279.1 L423.4,278.8 L426.1,278.5 L428.3,276.2 L430.7,271.7 L428.3,266.1 L424.6,261.5Z"/>
<path d="M544.8,256.8 L548.3,254.3 L549.5,252.9 L553.0,250.7 L553.7,255.0 L558.0,254.2 L562.3,253.5 L566.6,252.7 L570.9,251.9 L575.2,251.1 L579.5,250.3 L583.8,249.4 L588.0,248.5 L592.3,247.7 L596.6,246.8 L600.8,245.9 L605.1,244.9 L606.9,247.0 L611.1,252.3 L615.1,253.4 L613.7,256.4 L611.4,260.7 L611.5,265.2 L612.0,267.2 L614.4,269.5 L619.2,272.6 L617.1,274.8 L615.0,276.9 L612.1,280.0 L609.8,279.9 L607.9,282.3 L603.5,283.2 L599.0,284.2 L594.6,285.1 L590.1,286.0 L585.7,286.8 L581.2,287.7 L576.8,288.5 L572.3,289.4 L567.9,290.2 L563.4,291.0 L559.2,291.7 L555.0,292.4 L550.8,293.1 L550.0,288.2 L549.2,283.2 L548.4,278.3 L547.5,272.9 L546.6,267.6 L545.7,262.2 L544.8,256.8Z"/>
<path d="M528.5,317.9 L530.8,316.1 L533.2,314.3 L532.5,310.8 L534.9,308.9 L537.3,307.1 L539.3,302.3 L543.3,299.6 L546.7,294.9 L547.0,291.4 L547.3,287.9 L547.8,282.4 L548.4,278.3 L549.2,283.2 L550.0,288.2 L550.8,293.1 L555.0,292.4 L559.2,291.7 L563.4,291.0 L564.1,295.1 L564.8,299.3 L567.1,296.8 L569.4,294.4 L572.2,290.5 L576.4,291.4 L579.2,288.4 L583.5,289.3 L584.6,291.9 L585.8,293.5 L585.2,296.7 L582.3,295.1 L577.8,292.6 L577.2,296.6 L576.5,300.5 L573.5,304.9 L571.7,303.9 L569.2,310.9 L564.4,309.3 L563.6,315.2 L561.8,319.7 L562.7,321.5 L559.2,327.5 L557.1,330.0 L554.7,331.4 L552.4,332.8 L548.7,334.2 L545.8,335.0 L542.8,335.9 L538.4,331.0 L534.0,329.8 L531.9,326.0 L528.8,322.3 L528.5,317.9Z"/>
<path d="M585.8,293.5 L588.8,294.0 L591.9,296.7 L595.7,299.3 L594.3,303.7 L594.1,307.9 L598.1,308.8 L600.9,309.9 L603.7,311.0 L608.7,312.8 L608.9,317.4 L609.2,322.3 L609.1,324.8 L610.5,326.7 L611.0,327.7 L614.8,327.3 L617.8,333.0 L613.1,334.0 L608.3,335.0 L603.6,335.9 L598.9,336.9 L594.2,337.8 L589.4,338.7 L584.7,339.6 L579.9,340.5 L575.2,341.3 L570.4,342.1 L565.7,343.0 L561.4,343.5 L557.1,344.1 L552.9,344.7 L548.6,345.2 L544.3,345.7 L539.2,346.5 L534.1,347.2 L529.1,347.8 L524.0,348.5 L518.9,349.1 L522.4,346.2 L526.0,343.3 L529.2,340.3 L532.5,337.4 L535.4,334.2 L538.4,331.0 L542.8,335.9 L545.8,335.0 L548.7,334.2 L552.4,332.8 L554.7,331.4 L557.1,330.0 L559.2,327.5 L562.7,321.5 L561.8,319.7 L563.6,315.2 L564.4,309.3 L569.2,310.9 L571.7,303.9 L573.5,304.9 L576.5,300.5 L577.2,296.6 L577.8,292.6 L582.3,295.1 L585.2,296.7 L585.8,293.5Z"/>
<path d="M620.3,307.7 L619.4,311.0 L617.3,317.3 L614.6,324.2 L613.3,321.4 L613.6,316.4 L615.4,311.8 L615.7,310.1 L618.0,308.9 L620.3,307.7Z"/>
<path d="M463.3,381.2 L468.2,380.8 L473.0,380.3 L477.9,379.9 L482.7,379.4 L487.6,379.0 L492.4,378.5 L497.2,377.9 L498.6,383.3 L500.0,388.6 L501.4,393.9 L503.1,399.8 L504.9,405.8 L506.6,411.7 L508.3,415.0 L510.1,418.2 L510.0,421.9 L510.0,425.6 L510.4,429.6 L510.9,433.6 L511.7,437.6 L512.5,441.6 L507.4,442.1 L502.3,442.7 L497.2,443.2 L492.1,443.8 L487.0,444.3 L481.9,444.7 L476.8,445.2 L480.0,449.8 L479.5,453.2 L479.0,456.7 L475.1,457.7 L472.4,458.1 L474.2,455.2 L473.1,452.8 L471.5,450.9 L470.7,454.6 L470.1,456.3 L466.7,456.3 L465.9,450.1 L465.2,444.0 L464.5,437.8 L463.7,431.7 L463.9,427.3 L464.1,423.0 L464.3,418.6 L464.4,412.6 L464.5,406.7 L464.6,400.7 L464.7,394.8 L464.7,388.8 L464.8,382.9 L463.3,381.2Z"/>
</g>
<g fill="none" stroke="#a3a3a3" stroke-width="1.0" stroke-linejoin="round" stroke-linecap="round">
<path d="M52.5,156.4 L54.8,157.0 L57.1,157.5 L61.0,159.5 L63.7,162.0 L64.2,168.3 L67.1,171.5 L70.0,172.1 L72.9,172.7 L75.7,173.2 L78.4,173.7 L81.0,174.7 L83.6,175.7 L86.3,175.9 L89.0,176.0 L93.6,175.5 L98.2,175.1 L102.1,175.2 L106.0,175.4 L109.7,176.3 L113.5,177.2 L117.2,178.1 L121.0,179.0 L124.7,179.8 L128.5,180.7 M137.8,133.5 L136.5,139.2 L135.2,145.0 L133.9,150.7 L132.6,156.5 L131.3,162.2 L130.0,168.0 L128.6,173.8 L128.6,177.2 L128.5,180.7 M128.5,180.7 L131.7,185.5 L129.3,191.3 L125.9,195.8 L124.6,198.8 L120.0,203.6 L121.4,208.0 L121.1,212.1 L119.5,214.8 L118.2,220.5 L116.9,226.3 L115.6,232.0 L114.3,237.8 L113.0,243.6 M30.4,221.6 L34.8,222.9 L39.1,224.2 L43.5,225.5 L47.9,226.8 L52.3,228.1 L56.6,229.3 L61.0,230.5 L65.4,231.7 L69.8,232.9 L74.2,234.1 L78.6,235.2 L82.9,236.3 L87.2,237.4 L91.5,238.5 L95.8,239.5 L100.1,240.6 L104.4,241.6 L108.7,242.6 L113.0,243.6 L117.3,244.5 L121.7,245.5 L126.0,246.4 L130.4,247.3 L134.8,248.2 L139.1,249.1 L143.5,250.0 L147.8,250.9 L152.2,251.7 L156.6,252.5 L161.0,253.3 L165.3,254.1 L169.7,254.8 L174.1,255.6 L178.5,256.3 L182.9,257.0 M78.6,235.2 L77.1,241.1 L75.6,247.0 L74.1,252.9 L72.5,258.9 L71.0,264.8 L69.5,270.7 L67.9,276.6 L66.4,282.5 L69.9,288.2 L73.4,293.9 L76.9,299.6 L80.5,305.2 L84.2,310.9 L87.8,316.5 L91.5,322.2 L95.3,327.8 L99.1,333.4 L102.9,339.0 L106.8,344.6 L110.7,350.2 L114.7,355.7 L118.7,361.3 M118.7,361.3 L119.9,359.0 L119.8,353.2 L120.5,347.5 L120.5,344.7 L122.6,343.5 L125.7,344.7 L129.8,343.6 L131.1,337.2 L132.3,330.8 M132.3,330.8 L133.5,324.6 L134.7,318.5 L135.9,312.3 L137.1,306.2 L138.3,300.0 L139.5,293.9 L140.7,287.7 L141.9,281.6 L143.1,275.4 L144.3,269.3 L145.5,263.1 L146.7,257.0 L147.8,250.9 M118.7,361.3 L118.6,363.7 L119.7,366.1 L120.6,370.8 L122.8,373.7 L120.3,375.7 L116.6,379.1 L115.5,383.9 L112.4,386.5 L113.5,392.9 L112.8,397.4 L110.2,397.4 M148.1,135.8 L147.0,140.9 L145.9,146.2 L144.8,151.4 L147.3,156.8 L146.7,160.8 L148.5,162.8 L150.3,164.8 L153.3,169.5 L156.0,175.8 L158.9,176.4 L156.4,182.4 L155.8,188.4 L153.0,193.3 L155.2,195.4 L160.3,192.4 L161.5,197.4 L163.8,203.6 L165.1,207.8 L167.0,211.1 L168.8,214.3 L169.2,215.2 L172.3,214.5 L175.3,213.7 L179.7,215.4 L182.0,215.4 L184.4,215.4 L185.1,212.9 L187.3,213.9 L189.3,217.3 M190.6,209.0 L195.0,209.7 L199.4,210.4 L203.7,211.1 L208.1,211.7 L212.5,212.3 L216.9,212.9 L221.3,213.5 L225.7,214.1 L230.1,214.6 L234.5,215.2 L238.9,215.7 L243.3,216.2 L247.7,216.6 L252.1,217.1 L256.5,217.5 L260.9,218.0 L265.3,218.4 L269.7,218.8 M190.6,209.0 L189.9,213.2 L189.3,217.3 L188.4,223.0 L187.4,228.7 L186.5,234.3 L185.6,240.0 L184.7,245.7 L183.8,251.4 L182.9,257.0 L182.0,262.4 L181.2,267.7 L180.3,273.1 M275.2,154.8 L274.7,160.9 L274.2,166.9 L273.7,173.0 L273.1,179.1 L272.6,185.3 L272.1,191.4 L271.6,197.5 L271.0,203.6 L270.6,208.7 L270.2,213.7 L269.7,218.8 L269.2,225.2 L268.6,231.6 L268.1,238.1 L267.5,244.6 L267.0,251.0 L266.4,257.5 L265.9,264.0 L265.3,270.4 L264.8,276.9 L264.2,283.4 M271.0,203.6 L275.4,204.0 L279.9,204.4 L284.3,204.7 L288.7,205.0 L293.1,205.3 L297.5,205.6 L302.0,205.8 L306.4,206.1 L310.8,206.3 L315.2,206.5 L319.6,206.7 L324.1,206.9 L328.5,207.0 L332.9,207.1 L337.3,207.3 L341.8,207.3 L346.2,207.4 L350.6,207.5 L355.1,207.5 M267.0,251.0 L271.6,251.4 L276.2,251.8 L280.9,252.1 L285.5,252.5 L290.2,252.8 L294.8,253.1 L299.5,253.3 L304.1,253.6 L308.7,253.8 L313.4,254.0 L318.0,254.2 L322.7,254.4 L327.3,254.5 L332.0,254.7 L335.5,256.0 L339.0,257.3 L341.9,257.2 L344.9,257.1 L347.2,258.1 L349.5,259.1 L353.6,261.6 L356.0,263.4 M180.3,273.1 L185.1,273.9 L189.9,274.6 L194.6,275.3 L199.4,276.0 L204.2,276.7 L208.8,277.3 L213.4,277.9 L218.0,278.5 L222.6,279.1 L227.2,279.6 L231.9,280.2 L236.5,280.7 L241.1,281.2 L245.7,281.7 L250.3,282.1 L254.9,282.6 L259.6,283.0 L264.2,283.4 L269.0,283.8 L273.8,284.2 L278.6,284.5 L283.5,284.9 L288.3,285.2 M288.3,285.2 L287.9,290.6 L287.6,296.0 L287.2,301.5 M287.2,301.5 L292.1,301.8 L296.9,302.0 L301.8,302.3 L306.6,302.5 L311.5,302.8 L316.3,303.0 L321.2,303.1 L326.0,303.3 L330.9,303.4 L335.7,303.6 L340.6,303.7 L345.5,303.7 L350.3,303.8 L355.2,303.8 L360.0,303.9 L364.9,303.9 L369.7,303.8 M287.2,301.5 L286.9,307.5 L286.5,313.6 L286.1,319.7 L285.7,325.8 L285.4,331.9 L285.0,338.0 L284.6,344.1 L284.2,350.2 M204.2,276.7 L203.3,283.1 L202.4,289.6 L201.5,296.0 L200.6,302.5 L199.7,308.9 L198.8,315.4 L197.9,321.8 L197.0,328.3 L196.1,334.7 L195.2,341.2 L194.4,347.3 L193.5,353.4 L192.7,359.5 L191.9,365.6 L191.0,371.7 L190.2,377.8 L189.3,383.9 L188.5,389.9 L187.6,396.0 L186.8,402.1 L185.9,408.2 L185.1,414.3 L184.2,420.3 L183.4,426.4 L182.6,432.5 M132.3,330.8 L137.1,331.7 L141.9,332.6 L146.8,333.5 L151.6,334.3 L156.4,335.2 L161.3,336.0 L166.1,336.8 L171.0,337.6 L175.8,338.3 L180.7,339.1 L185.5,339.8 L190.4,340.5 L195.2,341.2 L200.0,341.8 L204.8,342.5 L209.6,343.1 L214.4,343.7 L219.2,344.3 L224.0,344.8 L228.8,345.4 L233.6,345.9 L238.4,346.4 L243.2,346.9 L248.0,347.3 L252.8,347.8 L257.6,348.2 L262.4,348.6 L267.2,349.0 L272.0,349.4 L276.1,349.7 L280.1,350.0 L284.2,350.2 L289.2,350.5 L294.2,350.8 L299.1,351.1 L304.1,351.3 L309.1,351.6 L314.1,351.8 L319.1,352.0 L324.0,352.1 L329.0,352.3 L334.0,352.4 L339.0,352.5 L344.0,352.6 L349.0,352.7 L353.9,352.7 L358.9,352.7 L363.9,352.7 L368.9,352.7 L373.9,352.7 L378.9,352.6 M272.0,349.4 L271.7,353.4 L271.4,357.5 M270.9,357.5 L270.4,363.5 L269.9,369.6 L269.4,375.7 L269.0,381.8 L268.5,387.9 L268.0,394.0 L267.5,400.0 L267.1,406.1 L266.6,412.2 L266.1,418.3 L265.6,424.3 L265.1,430.4 L259.8,430.0 L254.4,429.5 L249.0,429.1 L243.7,428.6 L238.3,428.1 L233.0,427.6 L227.6,427.0 L222.2,426.4 L216.9,425.9 L216.7,427.5 L217.7,429.5 M271.4,357.5 L276.2,357.8 L281.0,358.2 L285.8,358.5 L290.6,358.8 L295.4,359.1 L300.2,359.3 L305.1,359.5 L309.9,359.8 L309.6,366.1 L309.3,372.4 L309.1,378.7 L308.8,385.0 L308.5,391.3 L312.4,394.1 L315.0,394.6 L317.6,395.1 L322.2,397.7 L324.8,398.2 L327.4,398.6 L330.4,398.9 L333.4,399.1 L335.9,403.4 L339.3,403.0 L342.6,404.5 L345.9,406.0 L349.9,403.9 L353.9,404.5 L356.5,406.1 L360.2,404.8 L363.9,403.5 L367.5,402.9 L371.2,402.3 L375.9,405.5 L378.6,406.4 L381.3,407.3 L384.4,407.9 L387.4,408.6 M387.4,408.6 L387.5,412.9 L387.5,417.2 L387.7,422.7 L387.8,428.3 L387.9,433.8 L391.0,440.2 L392.6,443.4 L394.2,446.6 L395.0,451.4 L392.8,456.3 L392.9,461.2 L393.0,465.2 L391.2,467.7 L391.3,470.9 M379.0,360.8 L379.9,366.8 L380.8,372.8 L381.7,378.8 L381.6,384.5 L381.6,390.2 L381.5,395.9 L381.4,401.6 L381.3,407.3 M378.9,352.6 L378.8,346.9 L378.8,341.1 L378.7,335.3 L378.7,329.6 L378.7,323.8 L378.6,318.1 L374.2,313.6 L372.4,310.8 L374.8,307.9 L372.3,305.9 L369.7,303.8 M369.7,303.8 L366.8,299.6 L364.1,294.4 L363.5,291.0 L362.9,287.6 L362.1,283.4 L360.1,279.5 L359.2,275.4 L358.3,271.3 L357.2,267.3 L356.0,263.4 M356.0,263.4 L355.5,260.0 L355.0,256.7 L356.0,253.1 L354.3,247.0 M356.1,247.0 L356.1,241.1 L356.1,235.3 L356.2,229.5 L356.2,223.7 L356.2,217.8 L353.4,216.2 L351.8,213.0 L355.1,207.5 M355.1,207.5 L354.7,201.7 L353.7,197.1 L352.7,192.5 L352.4,187.5 L352.0,182.4 L351.1,179.0 L350.2,175.5 L349.6,170.9 L349.0,166.4 L348.6,162.4 L348.2,158.4 M354.3,247.0 L358.8,247.0 L363.3,247.0 L367.8,247.0 L372.2,246.9 L376.7,246.9 L381.2,246.8 L385.7,246.7 L390.1,246.6 L394.6,246.5 L399.1,246.4 L403.6,246.2 L408.0,246.0 L412.5,245.8 L417.0,245.6 M364.1,294.4 L368.5,294.4 L373.0,294.3 L377.5,294.2 L381.9,294.1 L386.4,294.0 L390.8,293.9 L395.3,293.7 L399.8,293.6 L404.2,293.4 L408.7,293.2 L413.1,293.0 L417.1,296.4 M417.0,245.6 L416.0,240.0 L411.6,237.0 L408.9,234.2 L406.2,231.5 L402.6,229.2 L397.9,226.2 L398.1,222.1 L398.8,217.2 L396.4,213.3 L396.6,210.4 L400.1,206.7 L402.9,204.5 L402.8,199.8 L402.6,195.2 L404.6,193.6 M417.0,245.6 L417.6,249.2 L418.2,252.9 L419.2,257.7 L421.9,259.6 L424.6,261.5 M424.6,261.5 L428.3,266.1 L430.7,271.7 L428.3,276.2 L426.1,278.5 L423.4,278.8 L420.7,279.1 L422.2,284.4 L420.6,289.4 L417.1,292.8 L417.1,296.4 M417.1,296.4 L416.3,301.0 L417.4,303.7 L418.2,307.4 L423.0,312.1 L427.1,318.4 L429.0,320.4 L432.1,318.9 L434.4,320.9 L433.9,324.0 L433.0,327.6 L432.2,331.1 L437.4,334.9 L440.4,336.7 L443.4,338.6 L443.6,341.8 L443.8,345.1 L448.6,349.6 M424.6,261.5 L428.8,261.2 L433.0,261.0 L437.2,260.7 L441.4,260.4 L445.6,260.1 L449.7,259.8 L453.9,259.4 L458.1,259.1 M462.4,271.3 L463.0,277.7 L463.5,284.1 L464.1,290.6 L464.7,297.0 L465.2,303.4 L465.8,309.9 L464.7,314.0 L467.1,320.4 L464.4,325.5 L462.4,330.6 L461.5,335.6 M461.5,335.6 L461.7,341.3 L459.2,342.1 L456.6,343.0 L457.7,346.5 L455.5,348.0 L453.7,346.8 L449.6,346.3 L448.6,349.6 M461.5,335.6 L464.4,333.9 L467.3,332.3 L470.4,333.4 L473.4,334.5 L476.5,333.3 L479.5,332.0 L481.9,330.4 L482.8,327.1 L486.4,330.5 L489.6,325.2 L493.0,321.9 L492.8,317.8 L496.3,316.8 L499.8,315.7 L499.6,310.5 M499.6,310.5 L503.5,310.0 L507.8,314.4 L510.8,315.3 L513.7,316.1 L518.2,314.7 L522.8,313.3 L525.0,315.9 L528.5,317.9 M528.5,317.9 L530.8,316.1 L533.2,314.3 L532.5,310.8 L534.9,308.9 L537.3,307.1 L539.3,302.3 L543.3,299.6 L546.7,294.9 L547.0,291.4 L547.3,287.9 L547.8,282.4 L548.4,278.3 M548.4,278.3 L547.5,272.9 L546.6,267.6 L545.7,262.2 L544.8,256.8 M499.6,310.5 L498.9,304.5 L498.2,298.5 L497.5,292.4 L496.9,286.4 L496.2,280.4 L495.5,274.4 L494.8,268.4 M494.8,268.4 L498.7,267.8 L502.7,267.2 L506.7,266.6 L510.6,266.0 M470.8,270.0 L474.8,269.6 L478.8,269.2 L482.7,268.8 L486.7,268.4 L490.7,267.9 L494.7,267.5 L494.8,268.4 M548.4,278.3 L549.2,283.2 L550.0,288.2 L550.8,293.1 L555.0,292.4 L559.2,291.7 L563.4,291.0 M563.4,291.0 L567.9,290.2 L572.3,289.4 L576.8,288.5 L581.2,287.7 L585.7,286.8 L590.1,286.0 L594.6,285.1 L599.0,284.2 L603.5,283.2 L607.9,282.3 M563.4,291.0 L564.1,295.1 L564.8,299.3 L567.1,296.8 L569.4,294.4 L572.2,290.5 L576.4,291.4 L579.2,288.4 L583.5,289.3 L584.6,291.9 L585.8,293.5 M585.8,293.5 L588.8,294.0 L591.9,296.7 L595.7,299.3 M585.8,293.5 L585.2,296.7 L582.3,295.1 L577.8,292.6 L577.2,296.6 L576.5,300.5 L573.5,304.9 L571.7,303.9 L569.2,310.9 L564.4,309.3 L563.6,315.2 L561.8,319.7 L562.7,321.5 L559.2,327.5 L557.1,330.0 L554.7,331.4 L552.4,332.8 L548.7,334.2 L545.8,335.0 L542.8,335.9 L538.4,331.0 M538.4,331.0 L534.0,329.8 L531.9,326.0 L528.8,322.3 L528.5,317.9 M538.4,331.0 L535.4,334.2 L532.5,337.4 L529.2,340.3 L526.0,343.3 L522.4,346.2 L518.9,349.1 M518.9,349.1 L524.0,348.5 L529.1,347.8 L534.1,347.2 L539.2,346.5 L544.3,345.7 M544.3,345.7 L548.6,345.2 L552.9,344.7 L557.1,344.1 L561.4,343.5 L565.7,343.0 L570.4,342.1 L575.2,341.3 L579.9,340.5 L584.7,339.6 L589.4,338.7 L594.2,337.8 L598.9,336.9 L603.6,335.9 L608.3,335.0 L613.1,334.0 L617.8,333.0 M518.9,349.1 L513.9,349.7 L509.0,350.3 L504.1,350.8 L499.1,351.3 L494.2,351.8 L489.3,352.3 L484.9,352.6 L480.5,353.0 L476.0,353.3 L471.6,353.7 L467.2,354.0 L462.8,354.3 L463.0,356.7 L458.4,357.1 L453.8,357.4 L449.3,357.8 L444.7,358.1 M379.0,360.8 L383.8,360.7 L388.5,360.6 L393.3,360.5 L398.1,360.3 L402.9,360.2 L407.7,360.0 L412.5,359.8 L417.2,359.6 L422.0,359.4 L426.8,359.2 L431.6,358.9 L436.3,358.6 L435.2,362.8 L434.0,366.9 L438.3,366.7 L442.7,366.4 M448.6,349.6 L448.9,353.7 L447.8,356.2 L444.6,357.3 L444.6,360.5 L442.7,366.4 M442.7,366.4 L440.5,373.0 L439.6,376.8 L438.7,380.5 L435.9,383.1 M435.9,383.1 L433.5,388.1 L432.1,391.5 L430.6,394.8 L427.0,401.5 L425.3,407.3 L426.8,411.3 L426.1,416.2 M387.5,417.2 L392.4,417.2 L397.2,417.1 L402.0,417.0 L406.8,416.9 L411.7,416.7 L416.5,416.6 L421.3,416.4 L426.1,416.2 M426.1,416.2 L427.4,422.6 L430.3,426.6 L427.9,432.4 L425.9,436.1 L423.9,439.9 L422.3,444.0 L421.5,448.9 L426.7,448.6 L432.0,448.4 L437.2,448.1 L442.4,447.8 L447.6,447.4 L446.5,452.4 L448.6,457.1 L451.2,460.5 M463.3,381.2 L464.8,382.9 L464.7,388.8 L464.7,394.8 L464.6,400.7 L464.5,406.7 L464.4,412.6 L464.3,418.6 L464.1,423.0 L463.9,427.3 L463.7,431.7 L464.5,437.8 L465.2,444.0 L465.9,450.1 L466.7,456.3 M435.9,383.1 L440.4,382.8 L445.0,382.5 L449.6,382.2 L454.2,381.9 L458.7,381.5 L463.3,381.2 L468.2,380.8 L473.0,380.3 L477.9,379.9 L482.7,379.4 L487.6,379.0 L492.4,378.5 L497.2,377.9 L501.4,377.5 L505.6,377.0 L509.7,376.5 L513.9,376.0 L517.9,375.5 L521.8,375.0 L525.8,374.5 L529.8,374.0 M513.9,376.0 L516.9,371.5 L517.1,368.2 L520.3,366.9 L523.4,365.6 L525.7,363.5 L528.0,361.4 L531.0,359.2 L534.0,356.9 L537.0,355.5 L540.1,354.1 L544.0,349.7 L544.3,345.7 M529.8,374.0 L527.1,379.2 L530.3,380.6 L533.5,382.0 L536.3,385.5 L539.2,389.1 L543.0,392.2 L546.8,395.4 L548.3,396.3 L551.8,399.7 L555.4,403.1 L557.0,406.6 L558.5,410.0 L562.5,413.7 L566.5,417.3 M529.8,374.0 L534.7,371.6 L539.7,369.3 L543.7,368.8 L547.8,368.3 L551.8,367.8 L555.9,367.3 L556.3,368.4 L558.3,369.8 L560.1,372.8 L565.0,372.0 L569.8,371.2 L574.7,370.3 L580.5,374.5 L586.2,378.7 L592.0,382.9 M497.2,377.9 L498.6,383.3 L500.0,388.6 L501.4,393.9 L503.1,399.8 L504.9,405.8 L506.6,411.7 L508.3,415.0 L510.1,418.2 L510.0,421.9 L510.0,425.6 L510.4,429.6 L510.9,433.6 L511.7,437.6 L512.5,441.6 M512.5,441.6 L507.4,442.1 L502.3,442.7 L497.2,443.2 L492.1,443.8 L487.0,444.3 L481.9,444.7 L476.8,445.2 L480.0,449.8 L479.5,453.2 L479.0,456.7 M512.5,441.6 L515.0,446.0 L520.2,445.7 L525.4,445.4 L530.7,445.1 L535.9,444.7 L541.2,444.3 L546.4,443.9 L551.6,443.5 L553.9,446.6 L554.6,443.4 L554.3,439.7 L559.6,439.8 L561.7,439.7 M607.9,282.3 L609.3,287.2 L610.6,292.2 L612.0,297.2 L613.3,302.1 L617.3,301.3 L621.3,300.5 M607.9,282.3 L609.8,279.9 L612.1,280.0 M612.1,280.0 L611.1,283.2 M612.1,280.0 L615.0,276.9 L617.1,274.8 L619.2,272.6 L614.4,269.5 L612.0,267.2 L611.5,265.2 L611.4,260.7 L613.7,256.4 L615.1,253.4 M615.1,253.4 L620.4,255.1 L625.8,256.9 L625.5,262.0 M615.1,253.4 L611.1,252.3 L606.9,247.0 L605.1,244.9 L600.8,245.9 L596.6,246.8 L592.3,247.7 L588.0,248.5 L583.8,249.4 L579.5,250.3 L575.2,251.1 L570.9,251.9 L566.6,252.7 L562.3,253.5 L558.0,254.2 L553.7,255.0 L553.0,250.7 M628.7,256.4 L627.4,254.8 L629.9,252.4 L628.8,248.0 L627.7,243.6 L626.6,239.1 M626.6,239.1 L626.6,233.3 L626.5,227.5 L625.5,223.0 L624.5,218.5 L623.4,214.0 L621.8,214.4 L620.8,209.7 L619.8,204.9 L618.9,200.1 L617.9,196.2 L617.0,192.3 M635.8,225.5 L635.0,221.8 L634.2,218.1 L634.1,214.3 L634.0,210.6 L634.8,204.5 L634.4,199.6 L636.4,197.4 L638.4,195.2 L637.0,191.4 L637.4,187.0 M626.5,227.5 L629.6,226.8 L632.7,226.2 L635.8,225.5 L640.3,224.5 L644.7,223.6 L649.2,222.6 L650.0,220.3 L653.9,218.4 M626.6,239.1 L630.5,238.3 L634.5,237.4 L638.4,236.5 L642.3,235.5 L646.2,234.6 L648.6,234.0 L651.1,233.5 L651.6,235.4 L654.5,238.0 L656.7,240.7 M646.2,234.6 L647.5,239.5 L648.8,244.5 L648.4,246.1 M654.4,214.9 L650.1,211.4 L649.3,207.9 L647.6,202.6 L645.9,197.2 L644.2,191.9 L642.5,186.6 L640.8,181.2 M456.8,216.9 L455.9,213.0 L453.5,211.6 L452.5,206.8 L448.9,203.9 L446.0,203.7 L443.2,203.5 L438.6,201.7 L434.8,200.2 L431.0,198.7 L427.2,197.2 L423.4,195.6 M615.7,310.1 L618.0,308.9 L620.3,307.7"/>
<path d="M606.3,313.8 l-2.2,-1.6 l-1.6,-2.6 l-2.6,-1.8 l-1.8,-2.2 M606.9,319.8 l-2.4,-2.8 l-2.2,-1.4 l-2.6,-2.6 M608.6,326.2 l-2.6,-0.6 l-2.4,-2.2 l-2.8,-0.4 l-2.6,-1.6" fill="none" stroke-width="0.9"/>
<path d="M55.4,121.3 L58.3,123.1 L61.1,124.8 L63.8,126.5 L66.5,128.1 L68.8,129.2 L71.1,130.2 L74.6,131.4 L75.4,135.6 L74.4,140.3 L73.6,144.2 L74.4,145.3 L75.7,144.0 L77.0,141.1 L78.9,136.6 L79.6,131.8 L79.3,126.7 L79.2,122.2 L78.4,118.2 L82.3,119.3 L86.3,120.4 L90.2,121.5 L94.2,122.6 L98.1,123.7 L102.1,124.7 L106.0,125.8 L110.0,126.8 L114.0,127.8 L117.9,128.8 L121.9,129.8 L125.9,130.7 L129.9,131.7 L133.9,132.6 L137.8,133.5 L141.3,134.3 L144.7,135.0 L148.1,135.8 L152.3,136.6 L156.5,137.5 L160.7,138.4 L164.9,139.2 L169.1,140.0 L173.3,140.8 L177.5,141.6 L181.8,142.4 L186.0,143.1 L190.2,143.9 L194.4,144.6 L198.7,145.3 L202.9,146.0 L207.1,146.6 L211.4,147.3 L215.6,147.9 L219.8,148.5 L224.1,149.1 L228.3,149.7 L232.6,150.2 L236.8,150.8 L241.1,151.3 L245.4,151.8 L249.6,152.3 L253.9,152.7 L258.1,153.2 L262.4,153.6 L266.7,154.0 L270.9,154.4 L275.2,154.8 L279.3,155.1 L283.3,155.4 L287.4,155.7 L291.4,156.0 L295.5,156.3 L299.5,156.6 L303.6,156.8 L307.6,157.0 L311.7,157.2 L315.7,157.4 L319.8,157.6 L323.8,157.8 L327.9,157.9 L332.0,158.0 L336.0,158.2 L340.1,158.3 L344.1,158.3 L348.2,158.4 L351.9,158.4 L355.6,158.5 L359.4,158.5 L363.1,158.5 L366.8,158.5 L370.5,158.5 L370.4,152.4 L372.6,152.7 L374.0,153.6 L374.7,157.0 L375.5,160.3 L376.5,162.9 L380.2,163.1 L382.4,163.5 L384.6,163.8 L388.7,165.8 L391.6,164.0 L394.3,164.0 L397.8,165.2 L400.1,168.2 L401.2,170.2 L404.7,169.6 L407.2,170.9 L409.7,172.2 L412.7,171.1 L415.6,169.9 L418.4,171.3 L421.7,171.1 L424.9,170.9 L428.0,171.6 L431.0,172.2 L427.3,174.8 L423.3,176.7 L420.3,178.4 L417.2,180.2 L413.6,184.4 L411.4,186.9 L409.2,189.4 L405.9,192.0 L404.6,193.6 L405.6,194.7 L408.0,194.0 L410.7,193.2 L413.5,192.5 L417.2,190.7 L418.9,189.8 L419.2,192.2 L418.1,195.4 L420.8,195.3 L423.4,195.6 L427.4,193.8 L431.2,191.8 L433.4,191.1 L435.5,190.3 L439.3,188.0 L442.8,184.2 L447.0,180.6 L450.7,179.2 L452.2,180.2 L448.9,183.7 L445.8,187.1 L444.7,189.7 L445.6,190.7 L448.7,188.5 L453.2,188.6 L457.0,193.5 L459.5,194.0 L462.1,194.6 L464.3,194.2 L466.5,193.9 L470.6,190.5 L473.6,190.0 L476.7,189.4 L479.6,188.3 L482.6,187.3 L483.7,187.2 L483.4,191.6 L485.8,191.7 L488.1,191.8 L490.8,190.7 L494.1,194.3 L496.1,196.8 L498.7,197.3 L501.3,197.8 L499.1,198.3 L496.9,198.8 L494.4,199.0 L491.8,199.1 L487.9,201.2 L484.5,199.2 L481.7,199.0 L478.8,198.9 L476.7,200.2 L474.6,201.4 L470.1,202.2 L467.7,206.2 L466.8,207.9 L464.9,204.0 L462.1,206.4 L459.7,211.0 L456.8,216.9 L454.2,220.7 L452.9,224.6 L453.0,226.5 L455.6,223.5 L459.3,220.0 L462.4,215.6 L463.6,213.1 L462.7,216.4 L461.1,220.6 L458.8,226.5 L458.7,232.2 L457.5,238.8 L456.1,244.6 L456.4,250.3 L458.0,255.0 L458.1,259.1 L458.2,263.2 L460.2,266.3 L461.4,269.4 L462.4,271.3 L464.7,272.9 L467.1,272.7 L469.9,270.8 L470.8,270.0 L474.3,264.1 L476.2,259.0 L476.4,252.8 L475.2,247.7 L472.5,242.3 L471.3,238.3 L471.4,234.2 L472.8,228.4 L472.8,225.2 L472.7,221.9 L474.4,218.2 L477.5,215.7 L479.8,213.0 L479.5,217.1 L480.0,220.0 L481.6,216.1 L482.8,211.1 L485.7,209.1 L484.2,206.1 L487.7,202.7 L491.4,204.4 L495.6,206.3 L498.9,207.2 L503.3,208.6 L504.0,212.2 L505.9,215.6 L506.4,222.0 L504.9,225.5 L503.2,229.8 L501.1,231.7 L501.4,235.7 L505.0,234.8 L507.3,230.1 L511.4,227.6 L515.5,230.6 L516.7,234.1 L517.9,237.6 L520.1,243.8 L520.0,248.0 L518.8,251.4 L516.6,250.6 L515.3,254.7 L513.5,257.1 L513.5,261.2 L511.2,263.9 L510.6,266.0 L512.7,266.5 L517.2,268.5 L519.9,267.7 L522.3,269.8 L526.9,268.3 L529.2,267.6 L531.5,266.8 L535.3,263.8 L537.7,261.7 L540.1,259.7 L542.5,258.3 L544.8,256.8 L548.3,254.3 L549.5,252.9 L553.0,250.7 L555.0,248.4 L557.1,246.2 L560.0,242.3 L561.2,239.2 L558.9,236.3 L558.2,233.4 L562.2,231.2 L565.0,230.5 L567.9,229.8 L570.8,229.7 L573.7,229.5 L575.7,230.3 L578.2,229.6 L580.8,228.8 L584.6,227.2 L587.0,224.4 L590.1,221.9 L588.6,217.8 L586.8,214.8 L586.5,213.6 L590.3,209.1 L592.2,205.8 L594.1,202.5 L596.0,200.5 L597.9,198.4 L601.8,195.9 L605.6,195.0 L609.4,194.1 L613.2,193.2 L617.0,192.3 L620.1,191.5 L623.2,190.6 L626.3,189.8 L630.0,188.9 L633.7,187.9 L637.4,187.0 L637.5,182.9 L640.8,181.2 L643.5,181.3 L643.4,178.8 L644.8,173.3 L647.1,168.6 L646.9,162.2 L646.5,158.2 L646.2,154.2 L648.8,147.3 L651.4,140.4 L655.0,143.8 L658.1,141.4 L661.1,139.0 L664.8,140.3 L668.5,141.5 L669.9,146.3 L671.4,151.1 L672.9,155.9 L674.4,160.7 L675.4,164.2 L679.5,165.0 L681.4,169.5 L685.0,171.3 L687.8,173.4 L688.5,174.1 L686.1,177.5 L682.9,181.6 L679.7,184.7 L677.3,185.6 L674.0,187.1 L670.8,188.7 L667.6,192.1 L665.9,196.1 L662.7,198.5 L659.5,200.1 L657.5,202.5 L657.0,205.8 L656.3,210.6 L654.4,214.9 L653.9,218.4 L657.0,220.1 L656.7,221.5 L655.1,223.8 L654.5,226.5 L657.7,227.8 L659.9,231.8 L663.1,233.1 L666.6,232.5 L666.1,229.7 L664.2,228.2 L666.2,227.5 L668.5,229.8 L669.4,233.5 L666.1,234.8 L663.5,236.5 L661.5,237.4 L660.4,235.2 L658.6,237.7 L656.7,240.7 L655.4,241.6 L654.5,238.8 L652.0,236.9 L652.2,239.4 L653.2,242.5 L652.4,244.1 L648.4,246.1 L645.6,246.0 L642.6,247.0 L639.6,248.0 L637.0,249.3 L634.3,250.7 L630.4,252.9 L628.7,256.4 L627.7,258.5 L626.3,260.1 L625.5,262.0 L623.6,263.4 L623.5,265.8 L626.1,266.0 L626.7,265.5 L627.6,271.5 L628.1,277.3 L625.7,284.3 L622.4,290.2 L620.8,292.6 L618.0,288.7 L613.8,286.7 L611.1,283.2 L613.5,288.1 L614.9,291.9 L619.6,295.1 L621.3,300.5 L620.8,304.1 L620.3,307.7 L619.4,311.0 L617.3,317.3 L614.6,324.2 L613.3,321.4 L613.6,316.4 L615.4,311.8 L615.7,310.1 L612.8,310.4 L611.8,306.8 L607.7,306.0 L605.7,302.2 L606.2,298.8 L603.7,296.0 L604.5,291.7 L606.5,287.9 L605.0,285.7 L602.4,289.6 L601.1,292.4 L602.2,296.0 L602.4,300.4 L605.1,305.7 L607.1,310.4 L602.1,309.6 L598.5,307.9 L594.6,307.3 L595.0,302.8 L595.7,299.3 L594.3,303.7 L594.1,307.9 L598.1,308.8 L600.9,309.9 L603.7,311.0 L608.7,312.8 L608.9,317.4 L609.2,322.3 L609.1,324.8 L610.5,326.7 L611.0,327.7 L614.8,327.3 L617.8,333.0 L620.2,338.3 L622.3,341.2 L624.4,344.0 L625.5,348.6 L626.6,353.2 L623.9,355.1 L621.2,356.9 L618.5,361.4 L615.9,365.8 L613.4,364.7 L608.4,366.5 L605.3,369.6 L602.2,372.7 L600.2,378.1 L599.7,381.5 L595.7,381.1 L592.0,382.9 L588.2,386.4 L585.6,392.3 L585.6,394.8 L583.3,398.5 L580.3,401.1 L577.3,403.7 L572.6,408.2 L571.2,412.1 L568.0,415.4 L566.5,417.3 L563.6,423.2 L562.3,428.3 L561.3,432.5 L561.7,436.6 L561.7,439.7 L562.6,442.9 L563.4,446.1 L564.6,449.2 L565.8,452.3 L567.7,455.7 L569.7,459.0 L573.5,465.0 L576.7,469.3 L580.1,473.5 L579.8,477.8 L582.9,483.0 L585.5,487.5 L588.8,492.6 L591.5,497.9 L591.8,501.5 L592.1,505.1 L592.4,511.5 L592.5,516.3 L591.4,521.4 L590.2,524.8 L586.3,526.6 L580.8,527.6 L579.2,524.2 L576.2,519.8 L571.4,517.3 L568.3,514.5 L566.6,509.9 L563.7,508.2 L559.7,504.9 L557.6,501.5 L553.9,495.9 L551.4,492.7 L554.1,489.1 L553.6,485.9 L551.7,487.8 L550.9,490.3 L548.9,486.5 L549.4,481.6 L549.6,477.9 L549.8,474.2 L547.0,469.7 L543.5,468.1 L539.1,463.5 L536.5,459.8 L530.3,455.7 L525.2,454.7 L523.1,457.9 L520.0,459.7 L516.9,461.4 L512.1,462.8 L510.0,463.5 L509.0,459.9 L504.5,457.1 L500.1,455.1 L497.2,454.4 L494.3,453.6 L490.9,454.0 L487.4,454.3 L481.9,455.6 L479.0,456.7 L475.1,457.7 L472.4,458.1 L474.2,455.2 L473.1,452.8 L471.5,450.9 L470.7,454.6 L470.1,456.3 L466.7,456.3 L463.9,456.8 L459.7,456.3 L454.5,458.0 L451.2,460.5 L447.8,462.3 L451.7,460.9 L455.2,462.3 L454.1,465.6 L451.4,468.2 L451.6,470.7 L455.3,473.6 L459.0,475.8 L457.8,479.1 L454.4,480.5 L453.4,477.0 L449.1,474.9 L446.3,475.0 L445.0,476.7 L442.3,478.8 L438.4,479.3 L434.5,479.8 L430.2,477.6 L427.2,473.7 L422.9,472.3 L420.1,472.8 L417.3,473.3 L415.7,469.4 L413.1,472.2 L408.2,472.9 L404.3,471.8 L400.4,470.7 L397.5,469.6 L394.4,470.3 L391.3,470.9 L387.8,472.2 L384.3,473.5 L379.0,476.8 L378.3,473.6 L376.6,470.4 L375.2,473.6 L376.6,477.6 L373.6,481.2 L371.0,483.6 L366.1,486.6 L361.9,489.0 L358.7,490.6 L355.5,492.2 L352.2,494.6 L349.0,497.0 L346.1,501.3 L341.4,501.7 L343.2,504.1 L342.0,508.1 L341.4,512.1 L340.9,516.1 L342.2,521.7 L343.3,525.6 L344.3,529.5 L344.3,531.2 L339.9,532.9 L334.1,529.6 L329.0,529.2 L323.2,526.1 L319.9,524.9 L316.7,523.5 L315.0,519.9 L313.3,516.2 L312.0,512.6 L310.7,508.9 L310.2,504.1 L305.6,500.7 L300.5,494.0 L299.0,489.9 L297.4,485.8 L296.3,482.5 L295.1,479.2 L291.6,475.0 L286.8,471.5 L283.5,467.6 L280.4,467.5 L277.2,467.4 L272.4,465.8 L269.5,467.2 L265.4,471.8 L263.3,476.0 L260.2,479.1 L254.8,475.8 L251.5,473.4 L247.3,472.0 L243.4,468.2 L240.1,461.6 L239.2,458.3 L238.4,454.9 L236.7,450.2 L232.9,446.2 L229.2,442.2 L226.0,439.2 L222.9,436.3 L220.5,433.2 L218.1,430.1 L217.7,429.5 L213.1,429.0 L208.6,428.5 L204.0,427.9 L199.5,427.4 L194.9,426.8 L194.5,430.4 L194.0,434.0 L190.2,433.5 L186.4,433.0 L182.6,432.5 L178.0,431.8 L173.4,431.2 L168.8,430.5 L164.3,429.8 L159.7,429.1 L155.1,428.4 L150.4,425.7 L145.6,423.0 L140.9,420.3 L136.2,417.5 L131.5,414.8 L126.8,412.0 L122.2,409.2 L117.5,406.4 L112.9,403.6 L108.3,400.8 L110.2,397.4 L105.6,396.9 L101.0,396.4 L96.4,395.9 L91.8,395.3 L87.1,394.8 L82.5,394.2 L77.9,393.6 L76.7,390.9 L76.9,388.1 L76.6,382.2 L73.7,377.2 L69.4,372.1 L65.6,370.7 L65.3,366.2 L61.5,365.2 L59.0,363.4 L56.6,361.5 L54.1,358.8 L51.5,356.0 L46.7,354.3 L41.8,352.7 L40.1,350.0 L41.2,344.9 L41.8,340.9 L40.6,336.8 L38.6,333.8 L36.6,330.7 L34.8,324.6 L31.8,318.7 L32.8,313.6 L35.3,311.3 L33.0,308.1 L29.5,303.2 L29.7,297.8 L31.1,293.1 L29.3,290.9 L25.7,288.2 L26.5,283.3 L24.1,276.7 L21.6,270.8 L22.2,266.7 L22.9,262.7 L22.9,258.0 L23.0,253.4 L20.4,248.3 L20.7,245.2 L24.8,240.3 L26.6,236.6 L28.0,233.6 L29.4,230.6 L29.3,225.5 L30.4,221.6 L30.3,217.8 L30.2,213.9 L30.5,207.4 L32.9,203.8 L35.4,200.2 L38.1,195.5 L40.8,190.9 L42.6,186.1 L44.5,181.3 L46.3,177.1 L48.2,172.8 L49.5,168.6 L50.8,164.3 L51.7,160.4 L52.5,156.4 L53.3,155.8 L54.3,152.6 L56.1,150.6 L54.3,148.6 L55.2,146.2 L56.9,144.7 L55.2,143.3 L54.8,138.0 L54.5,131.4 L54.3,124.8 L55.4,121.3Z"/>
</g>
<g fill="#fa0a2c">
<circle cx="220.0" cy="187.5" r="2.9"/>
<circle cx="174.0" cy="291.5" r="2.9"/>
<circle cx="159.0" cy="309.0" r="2.9"/>
<circle cx="181.0" cy="305.0" r="2.9"/>
<circle cx="205.0" cy="296.0" r="2.9"/>
<circle cx="230.0" cy="290.5" r="2.9"/>
<circle cx="219.0" cy="307.5" r="2.9"/>
<circle cx="440.0" cy="310.5" r="2.9"/>
<circle cx="448.5" cy="333.0" r="2.9"/>
<circle cx="456.0" cy="332.5" r="2.9"/>
<circle cx="452.0" cy="337.5" r="2.9"/>
<circle cx="539.0" cy="336.0" r="2.9"/>
<circle cx="476.9" cy="394.7" r="2.9"/>
<circle cx="482.9" cy="402.1" r="2.9"/>
<circle cx="486.0" cy="401.0" r="2.9"/>
<circle cx="476.1" cy="410.4" r="2.9"/>
<circle cx="547.3" cy="286.4" r="2.9"/>
<circle cx="551.6" cy="285.9" r="2.9"/>
<circle cx="555.3" cy="289.0" r="2.9"/>
<circle cx="547.6" cy="290.1" r="2.9"/>
<circle cx="551.6" cy="289.9" r="2.9"/>
<circle cx="547.3" cy="293.9" r="2.9"/>
<circle cx="551.9" cy="294.1" r="2.9"/>
<circle cx="549.6" cy="287.9" r="2.9"/>
<circle cx="553.9" cy="290.4" r="2.9"/>
<circle cx="558.1" cy="297.0" r="2.9"/>
<circle cx="561.0" cy="300.1" r="2.9"/>
<circle cx="557.6" cy="301.0" r="2.9"/>
<circle cx="559.6" cy="299.0" r="2.9"/>
</g>
<text stroke="#000" stroke-width="0.25" x="185.00" y="177.50" font-size="16.20" font-weight="normal" font-style="normal" text-anchor="start" fill="#000" textLength="47.0" lengthAdjust="spacingAndGlyphs">MONT.</text>
<text stroke="#000" stroke-width="0.25" x="149.00" y="285.00" font-size="16.20" font-weight="normal" font-style="normal" text-anchor="start" fill="#000" textLength="40.0" lengthAdjust="spacingAndGlyphs">UTAH</text>
<text stroke="#000" stroke-width="0.25" x="228.50" y="319.00" font-size="16.20" font-weight="normal" font-style="normal" text-anchor="start" fill="#000" textLength="44.0" lengthAdjust="spacingAndGlyphs">COLO.</text>
<text stroke="#000" stroke-width="0.25" x="436.50" y="293.20" font-size="16.20" font-weight="normal" font-style="normal" text-anchor="start" fill="#000" textLength="24.5" lengthAdjust="spacingAndGlyphs">ILL.</text>
<text stroke="#000" stroke-width="0.25" x="557.50" y="276.80" font-size="16.20" font-weight="normal" font-style="normal" text-anchor="start" fill="#000" textLength="44.0" lengthAdjust="spacingAndGlyphs">PENN.</text>
<text stroke="#000" stroke-width="0.25" x="519.00" y="319.00" font-size="16.20" font-weight="normal" font-style="normal" text-anchor="start" fill="#000" textLength="40.0" lengthAdjust="spacingAndGlyphs">W.VA.</text>
<text stroke="#000" stroke-width="0.25" x="572.50" y="328.00" font-size="16.20" font-weight="normal" font-style="normal" text-anchor="start" fill="#000" textLength="23.5" lengthAdjust="spacingAndGlyphs">VA.</text>
<text stroke="#000" stroke-width="0.25" x="471.50" y="432.50" font-size="16.20" font-weight="normal" font-style="normal" text-anchor="start" fill="#000" textLength="31.0" lengthAdjust="spacingAndGlyphs">ALA.</text>
<path d="M292.9,369.6 H418.6 V387.6 L472.9,394.3 L418.6,395.2 V429.2 H292.9 Z" fill="#7f7f76" fill-opacity="0.72"/>
<text stroke="#000" stroke-width="0.3" x="302.60" y="387.70" font-size="16.30" font-weight="bold" font-style="normal" text-anchor="start" fill="#000" textLength="106.2" lengthAdjust="spacingAndGlyphs">CRIMSON OAK</text>
<text stroke="#000" stroke-width="0.3" x="302.60" y="404.60" font-size="16.30" font-weight="bold" font-style="normal" text-anchor="start" fill="#000" textLength="94.7" lengthAdjust="spacingAndGlyphs">GROVE MINE</text>
<text x="302.60" y="421.30" font-size="15.20" font-weight="normal" font-style="italic" text-anchor="start" fill="#000" textLength="99.7" lengthAdjust="spacingAndGlyphs">Oak Grove, Ala.</text>
<text stroke="#000" stroke-width="0.3" x="371.40" y="507.60" font-size="14.00" font-weight="bold" font-style="normal" text-anchor="start" fill="#000" textLength="38.9" lengthAdjust="spacingAndGlyphs">STATE</text>
<text stroke="#000" stroke-width="0.3" x="463.30" y="492.30" font-size="14.00" font-weight="bold" font-style="normal" text-anchor="start" fill="#000" textLength="74.7" lengthAdjust="spacingAndGlyphs">LONGWALL</text>
<text stroke="#000" stroke-width="0.3" x="479.60" y="507.60" font-size="14.00" font-weight="bold" font-style="normal" text-anchor="start" fill="#000" textLength="42.7" lengthAdjust="spacingAndGlyphs">MINES</text>
<rect x="371.4" y="509.5" width="169" height="1.7" fill="#000"/>
<text stroke="#000" stroke-width="0.2" x="371.40" y="524.50" font-size="14.50" font-weight="normal" font-style="normal" text-anchor="start" fill="#000" textLength="61.4" lengthAdjust="spacingAndGlyphs">Alabama</text>
<text stroke="#000" stroke-width="0.2" x="500.00" y="524.50" font-size="14.50" font-weight="normal" font-style="normal" text-anchor="middle" fill="#000">4</text>
<rect x="371.4" y="527.7" width="169.4" height="0.8" fill="#cfcfcf"/>
<text stroke="#000" stroke-width="0.2" x="371.40" y="541.23" font-size="14.50" font-weight="normal" font-style="normal" text-anchor="start" fill="#000" textLength="62.5" lengthAdjust="spacingAndGlyphs">Colorado</text>
<text stroke="#000" stroke-width="0.2" x="500.00" y="541.23" font-size="14.50" font-weight="normal" font-style="normal" text-anchor="middle" fill="#000">3</text>
<rect x="371.4" y="544.4" width="169.4" height="0.8" fill="#cfcfcf"/>
<text stroke="#000" stroke-width="0.2" x="371.40" y="557.96" font-size="14.50" font-weight="normal" font-style="normal" text-anchor="start" fill="#000" textLength="44.0" lengthAdjust="spacingAndGlyphs">Illinois</text>
<text stroke="#000" stroke-width="0.2" x="500.00" y="557.96" font-size="14.50" font-weight="normal" font-style="normal" text-anchor="middle" fill="#000">4</text>
<rect x="371.4" y="561.2" width="169.4" height="0.8" fill="#cfcfcf"/>
<text stroke="#000" stroke-width="0.2" x="371.40" y="574.69" font-size="14.50" font-weight="normal" font-style="normal" text-anchor="start" fill="#000" textLength="61.0" lengthAdjust="spacingAndGlyphs">Montana</text>
<text stroke="#000" stroke-width="0.2" x="500.00" y="574.69" font-size="14.50" font-weight="normal" font-style="normal" text-anchor="middle" fill="#000">1</text>
<rect x="371.4" y="577.9" width="169.4" height="0.8" fill="#cfcfcf"/>
<text stroke="#000" stroke-width="0.2" x="371.40" y="591.42" font-size="14.50" font-weight="normal" font-style="normal" text-anchor="start" fill="#000" textLength="89.2" lengthAdjust="spacingAndGlyphs">Pennsylvania</text>
<text stroke="#000" stroke-width="0.2" x="500.00" y="591.42" font-size="14.50" font-weight="normal" font-style="normal" text-anchor="middle" fill="#000">4</text>
<rect x="371.4" y="594.6" width="169.4" height="0.8" fill="#cfcfcf"/>
<text stroke="#000" stroke-width="0.2" x="371.40" y="608.15" font-size="14.50" font-weight="normal" font-style="normal" text-anchor="start" fill="#000" textLength="31.5" lengthAdjust="spacingAndGlyphs">Utah</text>
<text stroke="#000" stroke-width="0.2" x="500.00" y="608.15" font-size="14.50" font-weight="normal" font-style="normal" text-anchor="middle" fill="#000">3</text>
<rect x="371.4" y="611.4" width="169.4" height="0.8" fill="#cfcfcf"/>
<text stroke="#000" stroke-width="0.2" x="371.40" y="624.88" font-size="14.50" font-weight="normal" font-style="normal" text-anchor="start" fill="#000" textLength="52.5" lengthAdjust="spacingAndGlyphs">Virginia</text>
<text stroke="#000" stroke-width="0.2" x="500.00" y="624.88" font-size="14.50" font-weight="normal" font-style="normal" text-anchor="middle" fill="#000">1</text>
<rect x="371.4" y="628.1" width="169.4" height="0.8" fill="#cfcfcf"/>
<text stroke="#000" stroke-width="0.2" x="371.40" y="641.61" font-size="14.50" font-weight="normal" font-style="normal" text-anchor="start" fill="#000" textLength="90.6" lengthAdjust="spacingAndGlyphs">West Virginia</text>
<text stroke="#000" stroke-width="0.2" x="500.00" y="641.61" font-size="14.50" font-weight="normal" font-style="normal" text-anchor="middle" fill="#000">9</text>
<text stroke="#000" stroke-width="0.5" x="6.95" y="28.50" font-size="29.70" font-weight="bold" font-style="normal" text-anchor="start" fill="#000" textLength="120.0" lengthAdjust="spacingAndGlyphs">Longwall</text>
<text stroke="#000" stroke-width="0.5" x="130.20" y="28.50" font-size="29.70" font-weight="bold" font-style="normal" text-anchor="start" fill="#000" textLength="64.3" lengthAdjust="spacingAndGlyphs">Coal</text>
<text stroke="#000" stroke-width="0.5" x="198.10" y="28.50" font-size="29.70" font-weight="bold" font-style="normal" text-anchor="start" fill="#000" textLength="88.9" lengthAdjust="spacingAndGlyphs">Mining</text>
<text stroke="#000" stroke-width="0.5" x="290.70" y="28.50" font-size="29.70" font-weight="bold" font-style="normal" text-anchor="start" fill="#000" textLength="23.8" lengthAdjust="spacingAndGlyphs">in</text>
<text stroke="#000" stroke-width="0.5" x="319.70" y="28.50" font-size="29.70" font-weight="bold" font-style="normal" text-anchor="start" fill="#000" textLength="46.8" lengthAdjust="spacingAndGlyphs">the</text>
<text stroke="#000" stroke-width="0.5" x="370.80" y="28.50" font-size="29.70" font-weight="bold" font-style="normal" text-anchor="start" fill="#000" textLength="95.1" lengthAdjust="spacingAndGlyphs">United</text>
<text stroke="#000" stroke-width="0.5" x="469.60" y="28.50" font-size="29.70" font-weight="bold" font-style="normal" text-anchor="start" fill="#000" textLength="87.8" lengthAdjust="spacingAndGlyphs">States</text>
<text stroke="#000" stroke-width="0.2" x="6.70" y="50.00" font-size="14.40" font-weight="normal" font-style="normal" text-anchor="start" fill="#000" textLength="608.5" lengthAdjust="spacingAndGlyphs">With longwall coal mining, bladed machines shear off slices of coal underground. As the</text>
<text stroke="#000" stroke-width="0.2" x="6.70" y="67.00" font-size="14.40" font-weight="normal" font-style="normal" text-anchor="start" fill="#000" textLength="578.3" lengthAdjust="spacingAndGlyphs">machine progresses through the seam, the overhead rock collapses behind it, often</text>
<text stroke="#000" stroke-width="0.2" x="6.70" y="83.75" font-size="14.40" font-weight="normal" font-style="normal" text-anchor="start" fill="#000" textLength="585.3" lengthAdjust="spacingAndGlyphs">releasing methane and causing the surface of the ground above to sink. The U.S. had</text>
<text stroke="#000" stroke-width="0.2" x="6.70" y="100.50" font-size="14.40" font-weight="normal" font-style="normal" text-anchor="start" fill="#000" textLength="263.3" lengthAdjust="spacingAndGlyphs">29 active longwall coal mines in 2023.</text>
<rect x="5" y="659.4" width="693.5" height="1.1" fill="#111"/>
<text x="5.30" y="675.00" font-size="12.20" font-weight="normal" font-style="normal" text-anchor="start" fill="#000" textLength="345.5" lengthAdjust="spacingAndGlyphs">SOURCES: National Institute for Occupational Safety and Health;</text>
<text x="354.00" y="675.00" font-size="12.20" font-weight="normal" font-style="italic" text-anchor="start" fill="#000" textLength="44.5" lengthAdjust="spacingAndGlyphs">Coal Age</text>
<text x="516.00" y="675.00" font-size="12.20" font-weight="normal" font-style="normal" text-anchor="start" fill="#000" textLength="183.5" lengthAdjust="spacingAndGlyphs">PAUL HORN / Inside Climate News</text>
</svg></body></html>
